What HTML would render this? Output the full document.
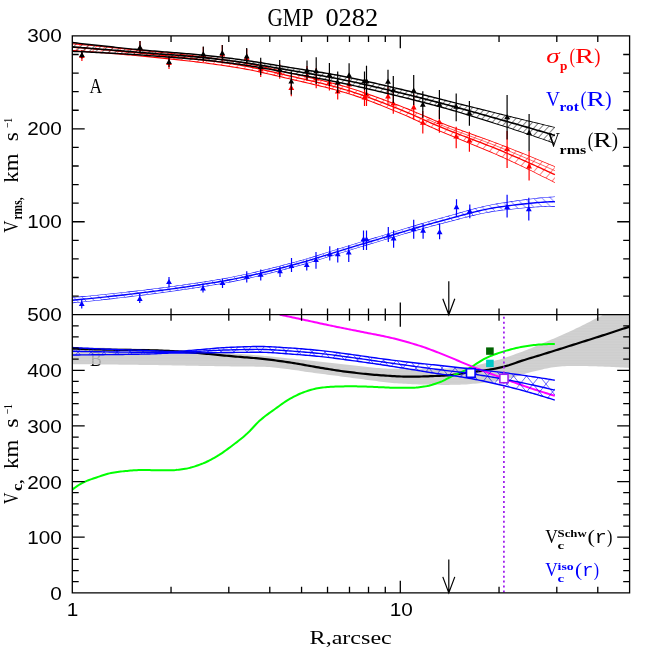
<!DOCTYPE html><html><head><meta charset="utf-8"><style>html,body{margin:0;padding:0;background:#fff}svg{display:block;will-change:transform;opacity:0.999}</style></head><body><svg width="664" height="664" viewBox="0 0 664 664">
<defs>
<pattern id="hk" patternUnits="userSpaceOnUse" width="20" height="4.900" patternTransform="rotate(-47)"><path d="M-1,2.450H21" stroke="#000" stroke-width="0.5" fill="none"/></pattern>
<pattern id="hr" patternUnits="userSpaceOnUse" width="20" height="6.700" patternTransform="rotate(-50)"><path d="M-1,3.350H21" stroke="#f00" stroke-width="0.5" fill="none"/></pattern>
<pattern id="hb" patternUnits="userSpaceOnUse" width="8.6" height="8.6"><path d="M-8.6,-8.6L17.2,17.2M0,-8.6L17.2,8.6M-8.6,0L8.6,17.2" stroke="#00f" stroke-width="0.55" fill="none"/></pattern>
<pattern id="hx" patternUnits="userSpaceOnUse" width="13" height="16"><path d="M0,0L13,16M13,0L0,16" stroke="#00f" stroke-width="0.6" fill="none"/></pattern>
<clipPath id="c2"><rect x="72.3" y="314.67" width="557.3000000000001" height="278.18"/></clipPath>
<pattern id="gdot" patternUnits="userSpaceOnUse" width="1.6" height="1.6"><path d="M0,0H1.6V1.6H0Z M0.5,0.5V1.1H1.1V0.5Z" fill="#c8c8c8" fill-rule="evenodd"/></pattern>
</defs>
<rect width="664" height="664" fill="#fff"/>
<g clip-path="url(#c2)">
<text x="90.0" y="365.7" font-family="Liberation Serif, serif" font-size="20.8" textLength="12.00" lengthAdjust="spacingAndGlyphs" fill="#000">B</text>
<path d="M72.30,347.50 L74.54,347.51 L76.78,347.52 L79.01,347.54 L81.25,347.55 L83.49,347.57 L85.73,347.60 L87.97,347.62 L90.21,347.65 L92.44,347.68 L94.68,347.72 L96.92,347.75 L99.16,347.79 L101.40,347.83 L103.63,347.87 L105.87,347.91 L108.11,347.96 L110.35,348.00 L112.59,348.05 L114.82,348.10 L117.06,348.15 L119.30,348.21 L121.54,348.26 L123.78,348.32 L126.02,348.37 L128.25,348.43 L130.49,348.49 L132.73,348.55 L134.97,348.61 L137.21,348.67 L139.44,348.73 L141.68,348.79 L143.92,348.86 L146.16,348.92 L148.40,348.98 L150.64,349.05 L152.87,349.12 L155.11,349.19 L157.35,349.27 L159.59,349.35 L161.83,349.44 L164.06,349.53 L166.30,349.62 L168.54,349.72 L170.78,349.82 L173.02,349.93 L175.26,350.03 L177.49,350.15 L179.73,350.26 L181.97,350.38 L184.21,350.49 L186.45,350.62 L188.68,350.74 L190.92,350.87 L193.16,350.99 L195.40,351.12 L197.64,351.25 L199.87,351.39 L202.11,351.52 L204.35,351.66 L206.59,351.79 L208.83,351.93 L211.07,352.07 L213.30,352.21 L215.54,352.35 L217.78,352.49 L220.02,352.63 L222.26,352.77 L224.49,352.91 L226.73,353.05 L228.97,353.19 L231.21,353.33 L233.45,353.48 L235.69,353.63 L237.92,353.79 L240.16,353.95 L242.40,354.11 L244.64,354.28 L246.88,354.45 L249.11,354.62 L251.35,354.79 L253.59,354.97 L255.83,355.15 L258.07,355.34 L260.30,355.53 L262.54,355.72 L264.78,355.92 L267.02,356.12 L269.26,356.33 L271.50,356.55 L273.73,356.77 L275.97,356.99 L278.21,357.22 L280.45,357.45 L282.69,357.68 L284.92,357.91 L287.16,358.15 L289.40,358.38 L291.64,358.62 L293.88,358.86 L296.12,359.09 L298.35,359.33 L300.59,359.56 L302.83,359.80 L305.07,360.04 L307.31,360.29 L309.54,360.53 L311.78,360.79 L314.02,361.04 L316.26,361.29 L318.50,361.55 L320.73,361.81 L322.97,362.06 L325.21,362.32 L327.45,362.57 L329.69,362.83 L331.93,363.08 L334.16,363.33 L336.40,363.58 L338.64,363.82 L340.88,364.07 L343.12,364.30 L345.35,364.53 L347.59,364.76 L349.83,364.98 L352.07,365.21 L354.31,365.45 L356.55,365.70 L358.78,365.95 L361.02,366.22 L363.26,366.48 L365.50,366.74 L367.74,367.00 L369.97,367.25 L372.21,367.49 L374.45,367.72 L376.69,367.93 L378.93,368.12 L381.17,368.29 L383.40,368.43 L385.64,368.55 L387.88,368.64 L390.12,368.69 L392.36,368.70 L394.59,368.70 L396.83,368.70 L399.07,368.70 L401.31,368.70 L403.55,368.70 L405.78,368.69 L408.02,368.69 L410.26,368.69 L412.50,368.68 L414.74,368.68 L416.98,368.68 L419.21,368.67 L421.45,368.67 L423.69,368.66 L425.93,368.65 L428.17,368.65 L430.40,368.64 L432.64,368.63 L434.88,368.62 L437.12,368.61 L439.36,368.60 L441.60,368.59 L443.83,368.54 L446.07,368.48 L448.31,368.39 L450.55,368.28 L452.79,368.16 L455.02,368.03 L457.26,367.89 L459.50,367.73 L461.74,367.56 L463.98,367.33 L466.21,367.05 L468.45,366.73 L470.69,366.35 L472.93,365.94 L475.17,365.50 L477.41,365.02 L479.64,364.52 L481.88,364.00 L484.12,363.45 L486.36,362.90 L488.60,362.33 L490.83,361.76 L493.07,361.19 L495.31,360.62 L497.55,360.03 L499.79,359.39 L502.03,358.72 L504.26,358.01 L506.50,357.27 L508.74,356.51 L510.98,355.72 L513.22,354.92 L515.45,354.11 L517.69,353.29 L519.93,352.46 L522.17,351.64 L524.41,350.80 L526.64,349.94 L528.88,349.06 L531.12,348.17 L533.36,347.26 L535.60,346.33 L537.84,345.40 L540.07,344.45 L542.31,343.49 L544.55,342.53 L546.79,341.56 L549.03,340.59 L551.26,339.62 L553.50,338.65 L555.74,337.68 L557.98,336.70 L560.22,335.72 L562.46,334.74 L564.69,333.74 L566.93,332.73 L569.17,331.72 L571.41,330.68 L573.65,329.64 L575.88,328.58 L578.12,327.50 L580.36,326.40 L582.60,325.29 L584.84,324.17 L587.08,323.03 L589.31,321.89 L591.55,320.74 L593.79,319.59 L596.03,318.44 L598.27,317.29 L600.50,316.14 L602.74,314.99 L604.98,313.84 L607.22,312.69 L609.46,311.54 L611.69,310.38 L613.93,309.21 L616.17,308.05 L618.41,306.88 L620.65,305.71 L622.89,304.54 L625.12,303.36 L627.36,302.18 L629.60,301.00 L629.60,368.00 L627.36,367.86 L625.12,367.72 L622.89,367.58 L620.65,367.45 L618.41,367.32 L616.17,367.20 L613.93,367.08 L611.69,366.97 L609.46,366.87 L607.22,366.77 L604.98,366.68 L602.74,366.59 L600.50,366.52 L598.27,366.44 L596.03,366.37 L593.79,366.29 L591.55,366.22 L589.31,366.15 L587.08,366.09 L584.84,366.03 L582.60,365.98 L580.36,365.94 L578.12,365.91 L575.88,365.90 L573.65,365.91 L571.41,365.95 L569.17,366.01 L566.93,366.11 L564.69,366.22 L562.46,366.35 L560.22,366.49 L557.98,366.67 L555.74,366.93 L553.50,367.26 L551.26,367.62 L549.03,368.00 L546.79,368.41 L544.55,368.87 L542.31,369.38 L540.07,369.91 L537.84,370.44 L535.60,370.98 L533.36,371.53 L531.12,372.10 L528.88,372.68 L526.64,373.28 L524.41,373.89 L522.17,374.53 L519.93,375.22 L517.69,375.93 L515.45,376.64 L513.22,377.34 L510.98,377.98 L508.74,378.56 L506.50,379.09 L504.26,379.59 L502.03,380.06 L499.79,380.50 L497.55,380.91 L495.31,381.28 L493.07,381.64 L490.83,381.97 L488.60,382.28 L486.36,382.56 L484.12,382.82 L481.88,383.06 L479.64,383.28 L477.41,383.49 L475.17,383.69 L472.93,383.87 L470.69,384.06 L468.45,384.24 L466.21,384.40 L463.98,384.52 L461.74,384.61 L459.50,384.67 L457.26,384.73 L455.02,384.78 L452.79,384.82 L450.55,384.86 L448.31,384.89 L446.07,384.90 L443.83,384.90 L441.60,384.89 L439.36,384.86 L437.12,384.83 L434.88,384.79 L432.64,384.74 L430.40,384.69 L428.17,384.63 L425.93,384.57 L423.69,384.51 L421.45,384.44 L419.21,384.38 L416.98,384.31 L414.74,384.23 L412.50,384.15 L410.26,384.06 L408.02,383.96 L405.78,383.85 L403.55,383.74 L401.31,383.61 L399.07,383.48 L396.83,383.34 L394.59,383.19 L392.36,383.03 L390.12,382.83 L387.88,382.58 L385.64,382.29 L383.40,381.98 L381.17,381.68 L378.93,381.40 L376.69,381.12 L374.45,380.83 L372.21,380.54 L369.97,380.25 L367.74,379.96 L365.50,379.67 L363.26,379.37 L361.02,379.08 L358.78,378.78 L356.55,378.48 L354.31,378.18 L352.07,377.88 L349.83,377.58 L347.59,377.28 L345.35,376.98 L343.12,376.68 L340.88,376.39 L338.64,376.09 L336.40,375.80 L334.16,375.50 L331.93,375.21 L329.69,374.92 L327.45,374.64 L325.21,374.35 L322.97,374.07 L320.73,373.79 L318.50,373.51 L316.26,373.22 L314.02,372.92 L311.78,372.61 L309.54,372.28 L307.31,371.96 L305.07,371.63 L302.83,371.29 L300.59,370.96 L298.35,370.62 L296.12,370.29 L293.88,369.96 L291.64,369.64 L289.40,369.33 L287.16,369.02 L284.92,368.73 L282.69,368.44 L280.45,368.18 L278.21,367.93 L275.97,367.69 L273.73,367.48 L271.50,367.29 L269.26,367.12 L267.02,366.97 L264.78,366.86 L262.54,366.77 L260.30,366.71 L258.07,366.67 L255.83,366.63 L253.59,366.61 L251.35,366.58 L249.11,366.56 L246.88,366.54 L244.64,366.52 L242.40,366.50 L240.16,366.48 L237.92,366.46 L235.69,366.44 L233.45,366.42 L231.21,366.39 L228.97,366.36 L226.73,366.33 L224.49,366.30 L222.26,366.26 L220.02,366.23 L217.78,366.19 L215.54,366.16 L213.30,366.12 L211.07,366.08 L208.83,366.04 L206.59,366.00 L204.35,365.96 L202.11,365.92 L199.87,365.88 L197.64,365.84 L195.40,365.79 L193.16,365.75 L190.92,365.71 L188.68,365.67 L186.45,365.63 L184.21,365.58 L181.97,365.54 L179.73,365.50 L177.49,365.46 L175.26,365.42 L173.02,365.38 L170.78,365.34 L168.54,365.30 L166.30,365.26 L164.06,365.22 L161.83,365.19 L159.59,365.15 L157.35,365.12 L155.11,365.08 L152.87,365.05 L150.64,365.02 L148.40,364.99 L146.16,364.96 L143.92,364.94 L141.68,364.91 L139.44,364.88 L137.21,364.85 L134.97,364.82 L132.73,364.80 L130.49,364.77 L128.25,364.74 L126.02,364.72 L123.78,364.69 L121.54,364.67 L119.30,364.64 L117.06,364.62 L114.82,364.59 L112.59,364.57 L110.35,364.54 L108.11,364.52 L105.87,364.50 L103.63,364.47 L101.40,364.45 L99.16,364.43 L96.92,364.41 L94.68,364.39 L92.44,364.37 L90.21,364.35 L87.97,364.33 L85.73,364.31 L83.49,364.29 L81.25,364.27 L79.01,364.25 L76.78,364.23 L74.54,364.22 L72.30,364.20Z" fill="url(#gdot)"/>
<path d="M72.30,348.60 L74.54,348.68 L76.78,348.76 L79.01,348.84 L81.25,348.91 L83.49,348.98 L85.73,349.06 L87.97,349.13 L90.21,349.19 L92.44,349.26 L94.68,349.32 L96.92,349.38 L99.16,349.44 L101.40,349.50 L103.63,349.55 L105.87,349.60 L108.11,349.65 L110.35,349.70 L112.59,349.74 L114.82,349.78 L117.06,349.82 L119.30,349.85 L121.54,349.88 L123.78,349.90 L126.02,349.93 L128.25,349.95 L130.49,349.97 L132.73,349.99 L134.97,350.01 L137.21,350.03 L139.44,350.06 L141.68,350.09 L143.92,350.12 L146.16,350.15 L148.40,350.19 L150.64,350.23 L152.87,350.29 L155.11,350.36 L157.35,350.44 L159.59,350.53 L161.83,350.62 L164.06,350.73 L166.30,350.84 L168.54,350.95 L170.78,351.07 L173.02,351.20 L175.26,351.32 L177.49,351.45 L179.73,351.58 L181.97,351.72 L184.21,351.87 L186.45,352.04 L188.68,352.21 L190.92,352.40 L193.16,352.59 L195.40,352.79 L197.64,352.99 L199.87,353.19 L202.11,353.40 L204.35,353.60 L206.59,353.80 L208.83,354.01 L211.07,354.22 L213.30,354.43 L215.54,354.65 L217.78,354.88 L220.02,355.10 L222.26,355.32 L224.49,355.54 L226.73,355.76 L228.97,355.97 L231.21,356.18 L233.45,356.38 L235.69,356.57 L237.92,356.75 L240.16,356.93 L242.40,357.10 L244.64,357.28 L246.88,357.45 L249.11,357.63 L251.35,357.81 L253.59,358.00 L255.83,358.20 L258.07,358.41 L260.30,358.63 L262.54,358.87 L264.78,359.11 L267.02,359.37 L269.26,359.64 L271.50,359.92 L273.73,360.21 L275.97,360.50 L278.21,360.81 L280.45,361.12 L282.69,361.43 L284.92,361.75 L287.16,362.08 L289.40,362.41 L291.64,362.75 L293.88,363.10 L296.12,363.48 L298.35,363.86 L300.59,364.26 L302.83,364.66 L305.07,365.07 L307.31,365.48 L309.54,365.88 L311.78,366.29 L314.02,366.69 L316.26,367.08 L318.50,367.45 L320.73,367.82 L322.97,368.18 L325.21,368.54 L327.45,368.90 L329.69,369.26 L331.93,369.62 L334.16,369.97 L336.40,370.32 L338.64,370.66 L340.88,370.99 L343.12,371.30 L345.35,371.61 L347.59,371.90 L349.83,372.18 L352.07,372.45 L354.31,372.71 L356.55,372.97 L358.78,373.23 L361.02,373.48 L363.26,373.72 L365.50,373.95 L367.74,374.18 L369.97,374.39 L372.21,374.59 L374.45,374.78 L376.69,374.96 L378.93,375.13 L381.17,375.28 L383.40,375.43 L385.64,375.59 L387.88,375.74 L390.12,375.89 L392.36,376.04 L394.59,376.18 L396.83,376.30 L399.07,376.42 L401.31,376.51 L403.55,376.59 L405.78,376.65 L408.02,376.69 L410.26,376.70 L412.50,376.69 L414.74,376.67 L416.98,376.63 L419.21,376.58 L421.45,376.52 L423.69,376.45 L425.93,376.38 L428.17,376.29 L430.40,376.21 L432.64,376.11 L434.88,376.02 L437.12,375.92 L439.36,375.83 L441.60,375.73 L443.83,375.62 L446.07,375.48 L448.31,375.33 L450.55,375.15 L452.79,374.91 L455.02,374.61 L457.26,374.26 L459.50,373.89 L461.74,373.50 L463.98,373.12 L466.21,372.76 L468.45,372.44 L470.69,372.15 L472.93,371.87 L475.17,371.61 L477.41,371.34 L479.64,371.07 L481.88,370.79 L484.12,370.48 L486.36,370.14 L488.60,369.78 L490.83,369.39 L493.07,368.98 L495.31,368.55 L497.55,368.08 L499.79,367.60 L502.03,367.08 L504.26,366.53 L506.50,365.92 L508.74,365.24 L510.98,364.50 L513.22,363.73 L515.45,362.94 L517.69,362.15 L519.93,361.38 L522.17,360.65 L524.41,359.95 L526.64,359.26 L528.88,358.57 L531.12,357.90 L533.36,357.22 L535.60,356.54 L537.84,355.86 L540.07,355.18 L542.31,354.49 L544.55,353.79 L546.79,353.10 L549.03,352.40 L551.26,351.71 L553.50,351.01 L555.74,350.31 L557.98,349.61 L560.22,348.90 L562.46,348.20 L564.69,347.49 L566.93,346.78 L569.17,346.07 L571.41,345.36 L573.65,344.65 L575.88,343.94 L578.12,343.23 L580.36,342.52 L582.60,341.81 L584.84,341.11 L587.08,340.40 L589.31,339.69 L591.55,338.98 L593.79,338.27 L596.03,337.55 L598.27,336.84 L600.50,336.12 L602.74,335.40 L604.98,334.68 L607.22,333.95 L609.46,333.23 L611.69,332.50 L613.93,331.77 L616.17,331.04 L618.41,330.30 L620.65,329.57 L622.89,328.83 L625.12,328.09 L627.36,327.34 L629.60,326.60" fill="none" stroke="#000" stroke-width="2.2"/>
<path d="M72.30,489.60 L73.91,488.37 L75.53,487.20 L77.14,486.08 L78.75,485.02 L80.37,484.03 L81.98,483.12 L83.60,482.29 L85.21,481.55 L86.82,480.87 L88.44,480.24 L90.05,479.65 L91.66,479.08 L93.28,478.54 L94.89,478.00 L96.51,477.46 L98.12,476.91 L99.73,476.35 L101.35,475.79 L102.96,475.24 L104.57,474.72 L106.19,474.23 L107.80,473.77 L109.42,473.37 L111.03,473.03 L112.64,472.74 L114.26,472.47 L115.87,472.22 L117.48,471.98 L119.10,471.77 L120.71,471.57 L122.33,471.38 L123.94,471.21 L125.55,471.06 L127.17,470.91 L128.78,470.77 L130.39,470.62 L132.01,470.48 L133.62,470.34 L135.23,470.23 L136.85,470.13 L138.46,470.05 L140.08,470.01 L141.69,470.00 L143.30,470.01 L144.92,470.03 L146.53,470.06 L148.14,470.09 L149.76,470.12 L151.37,470.15 L152.99,470.17 L154.60,470.19 L156.21,470.20 L157.83,470.20 L159.44,470.20 L161.05,470.20 L162.67,470.20 L164.28,470.20 L165.90,470.20 L167.51,470.20 L169.12,470.20 L170.74,470.20 L172.35,470.19 L173.96,470.13 L175.58,470.02 L177.19,469.87 L178.81,469.68 L180.42,469.46 L182.03,469.22 L183.65,468.97 L185.26,468.70 L186.87,468.44 L188.49,468.12 L190.10,467.75 L191.71,467.33 L193.33,466.85 L194.94,466.34 L196.56,465.80 L198.17,465.23 L199.78,464.64 L201.40,464.04 L203.01,463.41 L204.62,462.73 L206.24,462.00 L207.85,461.23 L209.47,460.43 L211.08,459.58 L212.69,458.71 L214.31,457.81 L215.92,456.89 L217.53,455.95 L219.15,454.95 L220.76,453.90 L222.38,452.81 L223.99,451.68 L225.60,450.52 L227.22,449.33 L228.83,448.14 L230.44,446.94 L232.06,445.73 L233.67,444.53 L235.28,443.31 L236.90,442.08 L238.51,440.83 L240.13,439.56 L241.74,438.25 L243.35,436.91 L244.97,435.53 L246.58,434.11 L248.19,432.59 L249.81,430.96 L251.42,429.25 L253.04,427.50 L254.65,425.75 L256.26,424.03 L257.88,422.38 L259.49,420.85 L261.10,419.45 L262.72,418.11 L264.33,416.82 L265.95,415.58 L267.56,414.36 L269.17,413.18 L270.79,412.02 L272.40,410.86 L274.01,409.71 L275.63,408.55 L277.24,407.37 L278.86,406.20 L280.47,405.02 L282.08,403.87 L283.70,402.73 L285.31,401.64 L286.92,400.59 L288.54,399.60 L290.15,398.67 L291.76,397.79 L293.38,396.93 L294.99,396.09 L296.61,395.29 L298.22,394.52 L299.83,393.79 L301.45,393.10 L303.06,392.46 L304.67,391.88 L306.29,391.34 L307.90,390.81 L309.52,390.30 L311.13,389.80 L312.74,389.34 L314.36,388.92 L315.97,388.54 L317.58,388.21 L319.20,387.94 L320.81,387.73 L322.43,387.54 L324.04,387.37 L325.65,387.21 L327.27,387.07 L328.88,386.94 L330.49,386.83 L332.11,386.74 L333.72,386.66 L335.34,386.60 L336.95,386.55 L338.56,386.50 L340.18,386.46 L341.79,386.41 L343.40,386.38 L345.02,386.35 L346.63,386.32 L348.24,386.31 L349.86,386.30 L351.47,386.30 L353.09,386.31 L354.70,386.34 L356.31,386.37 L357.93,386.40 L359.54,386.44 L361.15,386.48 L362.77,386.53 L364.38,386.57 L366.00,386.62 L367.61,386.67 L369.22,386.72 L370.84,386.79 L372.45,386.85 L374.06,386.92 L375.68,386.99 L377.29,387.07 L378.91,387.13 L380.52,387.20 L382.13,387.27 L383.75,387.35 L385.36,387.44 L386.97,387.52 L388.59,387.60 L390.20,387.68 L391.82,387.74 L393.43,387.78 L395.04,387.80 L396.66,387.80 L398.27,387.80 L399.88,387.80 L401.50,387.80 L403.11,387.80 L404.72,387.80 L406.34,387.80 L407.95,387.80 L409.57,387.80 L411.18,387.80 L412.79,387.75 L414.41,387.67 L416.02,387.55 L417.63,387.39 L419.25,387.20 L420.86,387.00 L422.48,386.77 L424.09,386.54 L425.70,386.30 L427.32,386.02 L428.93,385.67 L430.54,385.26 L432.16,384.80 L433.77,384.29 L435.39,383.75 L437.00,383.18 L438.61,382.58 L440.23,381.98 L441.84,381.34 L443.45,380.62 L445.07,379.82 L446.68,378.98 L448.29,378.12 L449.91,377.26 L451.52,376.43 L453.14,375.64 L454.75,374.90 L456.36,374.18 L457.98,373.47 L459.59,372.78 L461.20,372.08 L462.82,371.37 L464.43,370.64 L466.05,369.87 L467.66,369.07 L469.27,368.22 L470.89,367.28 L472.50,366.29 L474.11,365.25 L475.73,364.19 L477.34,363.13 L478.96,362.07 L480.57,361.05 L482.18,360.07 L483.80,359.16 L485.41,358.33 L487.02,357.58 L488.64,356.87 L490.25,356.19 L491.87,355.54 L493.48,354.91 L495.09,354.31 L496.71,353.73 L498.32,353.17 L499.93,352.63 L501.55,352.11 L503.16,351.61 L504.77,351.13 L506.39,350.65 L508.00,350.19 L509.62,349.73 L511.23,349.29 L512.84,348.86 L514.46,348.45 L516.07,348.06 L517.68,347.70 L519.30,347.36 L520.91,347.05 L522.53,346.76 L524.14,346.49 L525.75,346.23 L527.37,345.98 L528.98,345.74 L530.59,345.51 L532.21,345.30 L533.82,345.10 L535.44,344.92 L537.05,344.76 L538.66,344.62 L540.28,344.51 L541.89,344.41 L543.50,344.31 L545.12,344.22 L546.73,344.14 L548.35,344.06 L549.96,344.00 L551.57,343.95 L553.19,343.92 L554.80,343.90" fill="none" stroke="#0f0" stroke-width="2"/>
<path d="M279.75,314.67 L281.60,315.06 L283.44,315.45 L285.29,315.84 L287.13,316.23 L288.98,316.63 L290.83,317.02 L292.67,317.41 L294.52,317.81 L296.36,318.20 L298.21,318.60 L300.06,318.99 L301.90,319.39 L303.75,319.79 L305.59,320.19 L307.44,320.59 L309.29,320.99 L311.13,321.39 L312.98,321.80 L314.82,322.20 L316.67,322.60 L318.52,323.00 L320.36,323.40 L322.21,323.80 L324.05,324.20 L325.90,324.59 L327.75,324.98 L329.59,325.37 L331.44,325.76 L333.28,326.14 L335.13,326.52 L336.98,326.90 L338.82,327.27 L340.67,327.64 L342.51,328.02 L344.36,328.39 L346.21,328.76 L348.05,329.12 L349.90,329.49 L351.74,329.86 L353.59,330.23 L355.43,330.60 L357.28,330.97 L359.13,331.34 L360.97,331.72 L362.82,332.08 L364.66,332.45 L366.51,332.81 L368.36,333.17 L370.20,333.52 L372.05,333.88 L373.89,334.24 L375.74,334.60 L377.59,334.96 L379.43,335.33 L381.28,335.70 L383.12,336.09 L384.97,336.47 L386.82,336.87 L388.66,337.28 L390.51,337.70 L392.35,338.14 L394.20,338.59 L396.05,339.06 L397.89,339.53 L399.74,340.02 L401.58,340.52 L403.43,341.03 L405.28,341.54 L407.12,342.05 L408.97,342.57 L410.81,343.10 L412.66,343.64 L414.51,344.19 L416.35,344.75 L418.20,345.33 L420.04,345.92 L421.89,346.53 L423.74,347.16 L425.58,347.81 L427.43,348.48 L429.27,349.17 L431.12,349.86 L432.97,350.56 L434.81,351.26 L436.66,351.97 L438.50,352.68 L440.35,353.41 L442.20,354.14 L444.04,354.89 L445.89,355.64 L447.73,356.39 L449.58,357.14 L451.43,357.90 L453.27,358.66 L455.12,359.44 L456.96,360.22 L458.81,361.01 L460.66,361.80 L462.50,362.58 L464.35,363.37 L466.19,364.14 L468.04,364.90 L469.89,365.65 L471.73,366.39 L473.58,367.13 L475.42,367.86 L477.27,368.58 L479.12,369.30 L480.96,370.02 L482.81,370.73 L484.65,371.44 L486.50,372.14 L488.34,372.84 L490.19,373.54 L492.04,374.23 L493.88,374.92 L495.73,375.61 L497.57,376.30 L499.42,376.99 L501.27,377.67 L503.11,378.35 L504.96,379.04 L506.80,379.72 L508.65,380.40 L510.50,381.07 L512.34,381.75 L514.19,382.42 L516.03,383.09 L517.88,383.75 L519.73,384.41 L521.57,385.06 L523.42,385.71 L525.26,386.35 L527.11,386.99 L528.96,387.61 L530.80,388.23 L532.65,388.85 L534.49,389.46 L536.34,390.06 L538.19,390.66 L540.03,391.25 L541.88,391.84 L543.72,392.42 L545.57,393.00 L547.42,393.57 L549.26,394.13 L551.11,394.69 L552.95,395.25 L554.80,395.80" fill="none" stroke="#f0f" stroke-width="2"/>
<path d="M72.30,347.50 L74.50,347.62 L76.71,347.74 L78.91,347.86 L81.11,347.97 L83.32,348.08 L85.52,348.20 L87.72,348.31 L89.93,348.41 L92.13,348.52 L94.33,348.62 L96.54,348.73 L98.74,348.83 L100.94,348.92 L103.14,349.02 L105.35,349.11 L107.55,349.20 L109.75,349.29 L111.96,349.38 L114.16,349.46 L116.36,349.54 L118.57,349.61 L120.77,349.69 L122.97,349.76 L125.18,349.83 L127.38,349.90 L129.58,349.97 L131.79,350.04 L133.99,350.10 L136.19,350.17 L138.40,350.24 L140.60,350.31 L142.80,350.39 L145.01,350.46 L147.21,350.54 L149.41,350.62 L151.62,350.71 L153.82,350.81 L156.02,350.92 L158.22,351.04 L160.43,351.15 L162.63,351.26 L164.83,351.35 L167.04,351.42 L169.24,351.47 L171.44,351.50 L173.65,351.49 L175.85,351.44 L178.05,351.35 L180.26,351.23 L182.46,351.08 L184.66,350.92 L186.87,350.74 L189.07,350.54 L191.27,350.34 L193.48,350.14 L195.68,349.95 L197.88,349.76 L200.09,349.59 L202.29,349.42 L204.49,349.23 L206.69,349.04 L208.90,348.83 L211.10,348.63 L213.30,348.43 L215.51,348.23 L217.71,348.04 L219.91,347.87 L222.12,347.71 L224.32,347.58 L226.52,347.48 L228.73,347.38 L230.93,347.28 L233.13,347.19 L235.34,347.10 L237.54,347.01 L239.74,346.93 L241.95,346.85 L244.15,346.78 L246.35,346.71 L248.56,346.65 L250.76,346.60 L252.96,346.56 L255.17,346.53 L257.37,346.51 L259.57,346.50 L261.77,346.51 L263.98,346.54 L266.18,346.60 L268.38,346.68 L270.59,346.78 L272.79,346.89 L274.99,347.02 L277.20,347.15 L279.40,347.29 L281.60,347.44 L283.81,347.59 L286.01,347.74 L288.21,347.89 L290.42,348.03 L292.62,348.17 L294.82,348.32 L297.03,348.48 L299.23,348.64 L301.43,348.82 L303.64,348.99 L305.84,349.18 L308.04,349.37 L310.25,349.57 L312.45,349.77 L314.65,349.98 L316.85,350.19 L319.06,350.41 L321.26,350.63 L323.46,350.87 L325.67,351.11 L327.87,351.37 L330.07,351.64 L332.28,351.92 L334.48,352.21 L336.68,352.50 L338.89,352.79 L341.09,353.09 L343.29,353.39 L345.50,353.69 L347.70,353.99 L349.90,354.29 L352.11,354.58 L354.31,354.89 L356.51,355.20 L358.72,355.51 L360.92,355.83 L363.12,356.14 L365.33,356.46 L367.53,356.78 L369.73,357.10 L371.93,357.42 L374.14,357.73 L376.34,358.04 L378.54,358.34 L380.75,358.63 L382.95,358.92 L385.15,359.21 L387.36,359.50 L389.56,359.79 L391.76,360.07 L393.97,360.35 L396.17,360.63 L398.37,360.91 L400.58,361.18 L402.78,361.45 L404.98,361.71 L407.19,361.97 L409.39,362.23 L411.59,362.48 L413.80,362.73 L416.00,362.97 L418.20,363.21 L420.41,363.44 L422.61,363.68 L424.81,363.91 L427.01,364.14 L429.22,364.36 L431.42,364.59 L433.62,364.82 L435.83,365.05 L438.03,365.29 L440.23,365.53 L442.44,365.76 L444.64,366.01 L446.84,366.25 L449.05,366.49 L451.25,366.73 L453.45,366.97 L455.66,367.22 L457.86,367.46 L460.06,367.71 L462.27,367.95 L464.47,368.19 L466.67,368.43 L468.88,368.67 L471.08,368.91 L473.28,369.15 L475.48,369.38 L477.69,369.62 L479.89,369.86 L482.09,370.10 L484.30,370.35 L486.50,370.60 L488.70,370.85 L490.91,371.10 L493.11,371.36 L495.31,371.62 L497.52,371.89 L499.72,372.16 L501.92,372.44 L504.13,372.73 L506.33,373.01 L508.53,373.30 L510.74,373.60 L512.94,373.89 L515.14,374.20 L517.35,374.50 L519.55,374.81 L521.75,375.12 L523.96,375.43 L526.16,375.75 L528.36,376.07 L530.56,376.40 L532.77,376.73 L534.97,377.06 L537.17,377.39 L539.38,377.73 L541.58,378.08 L543.78,378.42 L545.99,378.77 L548.19,379.12 L550.39,379.48 L552.60,379.84 L554.80,380.20 L554.80,400.10 L552.60,399.39 L550.39,398.69 L548.19,398.00 L545.99,397.31 L543.78,396.63 L541.58,395.96 L539.38,395.30 L537.17,394.64 L534.97,393.99 L532.77,393.35 L530.56,392.72 L528.36,392.10 L526.16,391.48 L523.96,390.87 L521.75,390.28 L519.55,389.68 L517.35,389.10 L515.14,388.53 L512.94,387.96 L510.74,387.40 L508.53,386.85 L506.33,386.31 L504.13,385.78 L501.92,385.25 L499.72,384.73 L497.52,384.22 L495.31,383.72 L493.11,383.22 L490.91,382.72 L488.70,382.24 L486.50,381.75 L484.30,381.28 L482.09,380.81 L479.89,380.36 L477.69,379.91 L475.48,379.47 L473.28,379.04 L471.08,378.62 L468.88,378.21 L466.67,377.82 L464.47,377.44 L462.27,377.07 L460.06,376.71 L457.86,376.37 L455.66,376.06 L453.45,375.76 L451.25,375.48 L449.05,375.20 L446.84,374.92 L444.64,374.64 L442.44,374.34 L440.23,374.03 L438.03,373.71 L435.83,373.38 L433.62,373.03 L431.42,372.69 L429.22,372.33 L427.01,371.98 L424.81,371.62 L422.61,371.25 L420.41,370.89 L418.20,370.53 L416.00,370.17 L413.80,369.81 L411.59,369.45 L409.39,369.10 L407.19,368.75 L404.98,368.41 L402.78,368.06 L400.58,367.71 L398.37,367.36 L396.17,367.01 L393.97,366.66 L391.76,366.32 L389.56,365.97 L387.36,365.64 L385.15,365.30 L382.95,364.97 L380.75,364.64 L378.54,364.31 L376.34,363.99 L374.14,363.67 L371.93,363.35 L369.73,363.03 L367.53,362.72 L365.33,362.40 L363.12,362.09 L360.92,361.79 L358.72,361.48 L356.51,361.18 L354.31,360.88 L352.11,360.58 L349.90,360.29 L347.70,359.99 L345.50,359.69 L343.29,359.39 L341.09,359.09 L338.89,358.79 L336.68,358.50 L334.48,358.21 L332.28,357.92 L330.07,357.64 L327.87,357.37 L325.67,357.11 L323.46,356.87 L321.26,356.63 L319.06,356.41 L316.85,356.19 L314.65,355.98 L312.45,355.78 L310.25,355.58 L308.04,355.38 L305.84,355.20 L303.64,355.01 L301.43,354.84 L299.23,354.67 L297.03,354.50 L294.82,354.34 L292.62,354.18 L290.42,354.03 L288.21,353.88 L286.01,353.72 L283.81,353.55 L281.60,353.38 L279.40,353.21 L277.20,353.05 L274.99,352.90 L272.79,352.75 L270.59,352.62 L268.38,352.51 L266.18,352.42 L263.98,352.35 L261.77,352.31 L259.57,352.30 L257.37,352.30 L255.17,352.31 L252.96,352.31 L250.76,352.32 L248.56,352.33 L246.35,352.34 L244.15,352.36 L241.95,352.37 L239.74,352.39 L237.54,352.40 L235.34,352.42 L233.13,352.44 L230.93,352.46 L228.73,352.48 L226.52,352.50 L224.32,352.52 L222.12,352.54 L219.91,352.58 L217.71,352.61 L215.51,352.65 L213.30,352.69 L211.10,352.73 L208.90,352.77 L206.69,352.81 L204.49,352.84 L202.29,352.87 L200.09,352.90 L197.88,352.92 L195.68,352.94 L193.48,352.95 L191.27,352.96 L189.07,352.98 L186.87,352.99 L184.66,353.00 L182.46,353.01 L180.26,353.02 L178.05,353.04 L175.85,353.06 L173.65,353.08 L171.44,353.11 L169.24,353.16 L167.04,353.23 L164.83,353.31 L162.63,353.42 L160.43,353.52 L158.22,353.63 L156.02,353.74 L153.82,353.84 L151.62,353.92 L149.41,353.99 L147.21,354.04 L145.01,354.09 L142.80,354.13 L140.60,354.17 L138.40,354.21 L136.19,354.25 L133.99,354.28 L131.79,354.32 L129.58,354.35 L127.38,354.38 L125.18,354.41 L122.97,354.44 L120.77,354.47 L118.57,354.49 L116.36,354.52 L114.16,354.55 L111.96,354.58 L109.75,354.60 L107.55,354.63 L105.35,354.66 L103.14,354.68 L100.94,354.71 L98.74,354.74 L96.54,354.76 L94.33,354.79 L92.13,354.81 L89.93,354.83 L87.72,354.86 L85.52,354.88 L83.32,354.90 L81.11,354.92 L78.91,354.94 L76.71,354.96 L74.50,354.98 L72.30,355.00Z" fill="url(#hx)" stroke="none"/>
<path d="M72.30,347.50 L74.50,347.62 L76.71,347.74 L78.91,347.86 L81.11,347.97 L83.32,348.08 L85.52,348.20 L87.72,348.31 L89.93,348.41 L92.13,348.52 L94.33,348.62 L96.54,348.73 L98.74,348.83 L100.94,348.92 L103.14,349.02 L105.35,349.11 L107.55,349.20 L109.75,349.29 L111.96,349.38 L114.16,349.46 L116.36,349.54 L118.57,349.61 L120.77,349.69 L122.97,349.76 L125.18,349.83 L127.38,349.90 L129.58,349.97 L131.79,350.04 L133.99,350.10 L136.19,350.17 L138.40,350.24 L140.60,350.31 L142.80,350.39 L145.01,350.46 L147.21,350.54 L149.41,350.62 L151.62,350.71 L153.82,350.81 L156.02,350.92 L158.22,351.04 L160.43,351.15 L162.63,351.26 L164.83,351.35 L167.04,351.42 L169.24,351.47 L171.44,351.50 L173.65,351.49 L175.85,351.44 L178.05,351.35 L180.26,351.23 L182.46,351.08 L184.66,350.92 L186.87,350.74 L189.07,350.54 L191.27,350.34 L193.48,350.14 L195.68,349.95 L197.88,349.76 L200.09,349.59 L202.29,349.42 L204.49,349.23 L206.69,349.04 L208.90,348.83 L211.10,348.63 L213.30,348.43 L215.51,348.23 L217.71,348.04 L219.91,347.87 L222.12,347.71 L224.32,347.58 L226.52,347.48 L228.73,347.38 L230.93,347.28 L233.13,347.19 L235.34,347.10 L237.54,347.01 L239.74,346.93 L241.95,346.85 L244.15,346.78 L246.35,346.71 L248.56,346.65 L250.76,346.60 L252.96,346.56 L255.17,346.53 L257.37,346.51 L259.57,346.50 L261.77,346.51 L263.98,346.54 L266.18,346.60 L268.38,346.68 L270.59,346.78 L272.79,346.89 L274.99,347.02 L277.20,347.15 L279.40,347.29 L281.60,347.44 L283.81,347.59 L286.01,347.74 L288.21,347.89 L290.42,348.03 L292.62,348.17 L294.82,348.32 L297.03,348.48 L299.23,348.64 L301.43,348.82 L303.64,348.99 L305.84,349.18 L308.04,349.37 L310.25,349.57 L312.45,349.77 L314.65,349.98 L316.85,350.19 L319.06,350.41 L321.26,350.63 L323.46,350.87 L325.67,351.11 L327.87,351.37 L330.07,351.64 L332.28,351.92 L334.48,352.21 L336.68,352.50 L338.89,352.79 L341.09,353.09 L343.29,353.39 L345.50,353.69 L347.70,353.99 L349.90,354.29 L352.11,354.58 L354.31,354.89 L356.51,355.20 L358.72,355.51 L360.92,355.83 L363.12,356.14 L365.33,356.46 L367.53,356.78 L369.73,357.10 L371.93,357.42 L374.14,357.73 L376.34,358.04 L378.54,358.34 L380.75,358.63 L382.95,358.92 L385.15,359.21 L387.36,359.50 L389.56,359.79 L391.76,360.07 L393.97,360.35 L396.17,360.63 L398.37,360.91 L400.58,361.18 L402.78,361.45 L404.98,361.71 L407.19,361.97 L409.39,362.23 L411.59,362.48 L413.80,362.73 L416.00,362.97 L418.20,363.21 L420.41,363.44 L422.61,363.68 L424.81,363.91 L427.01,364.14 L429.22,364.36 L431.42,364.59 L433.62,364.82 L435.83,365.05 L438.03,365.29 L440.23,365.53 L442.44,365.76 L444.64,366.01 L446.84,366.25 L449.05,366.49 L451.25,366.73 L453.45,366.97 L455.66,367.22 L457.86,367.46 L460.06,367.71 L462.27,367.95 L464.47,368.19 L466.67,368.43 L468.88,368.67 L471.08,368.91 L473.28,369.15 L475.48,369.38 L477.69,369.62 L479.89,369.86 L482.09,370.10 L484.30,370.35 L486.50,370.60 L488.70,370.85 L490.91,371.10 L493.11,371.36 L495.31,371.62 L497.52,371.89 L499.72,372.16 L501.92,372.44 L504.13,372.73 L506.33,373.01 L508.53,373.30 L510.74,373.60 L512.94,373.89 L515.14,374.20 L517.35,374.50 L519.55,374.81 L521.75,375.12 L523.96,375.43 L526.16,375.75 L528.36,376.07 L530.56,376.40 L532.77,376.73 L534.97,377.06 L537.17,377.39 L539.38,377.73 L541.58,378.08 L543.78,378.42 L545.99,378.77 L548.19,379.12 L550.39,379.48 L552.60,379.84 L554.80,380.20" fill="none" stroke="#00f" stroke-width="1.4"/>
<path d="M72.30,355.00 L74.50,354.98 L76.71,354.96 L78.91,354.94 L81.11,354.92 L83.32,354.90 L85.52,354.88 L87.72,354.86 L89.93,354.83 L92.13,354.81 L94.33,354.79 L96.54,354.76 L98.74,354.74 L100.94,354.71 L103.14,354.68 L105.35,354.66 L107.55,354.63 L109.75,354.60 L111.96,354.58 L114.16,354.55 L116.36,354.52 L118.57,354.49 L120.77,354.47 L122.97,354.44 L125.18,354.41 L127.38,354.38 L129.58,354.35 L131.79,354.32 L133.99,354.28 L136.19,354.25 L138.40,354.21 L140.60,354.17 L142.80,354.13 L145.01,354.09 L147.21,354.04 L149.41,353.99 L151.62,353.92 L153.82,353.84 L156.02,353.74 L158.22,353.63 L160.43,353.52 L162.63,353.42 L164.83,353.31 L167.04,353.23 L169.24,353.16 L171.44,353.11 L173.65,353.08 L175.85,353.06 L178.05,353.04 L180.26,353.02 L182.46,353.01 L184.66,353.00 L186.87,352.99 L189.07,352.98 L191.27,352.96 L193.48,352.95 L195.68,352.94 L197.88,352.92 L200.09,352.90 L202.29,352.87 L204.49,352.84 L206.69,352.81 L208.90,352.77 L211.10,352.73 L213.30,352.69 L215.51,352.65 L217.71,352.61 L219.91,352.58 L222.12,352.54 L224.32,352.52 L226.52,352.50 L228.73,352.48 L230.93,352.46 L233.13,352.44 L235.34,352.42 L237.54,352.40 L239.74,352.39 L241.95,352.37 L244.15,352.36 L246.35,352.34 L248.56,352.33 L250.76,352.32 L252.96,352.31 L255.17,352.31 L257.37,352.30 L259.57,352.30 L261.77,352.31 L263.98,352.35 L266.18,352.42 L268.38,352.51 L270.59,352.62 L272.79,352.75 L274.99,352.90 L277.20,353.05 L279.40,353.21 L281.60,353.38 L283.81,353.55 L286.01,353.72 L288.21,353.88 L290.42,354.03 L292.62,354.18 L294.82,354.34 L297.03,354.50 L299.23,354.67 L301.43,354.84 L303.64,355.01 L305.84,355.20 L308.04,355.38 L310.25,355.58 L312.45,355.78 L314.65,355.98 L316.85,356.19 L319.06,356.41 L321.26,356.63 L323.46,356.87 L325.67,357.11 L327.87,357.37 L330.07,357.64 L332.28,357.92 L334.48,358.21 L336.68,358.50 L338.89,358.79 L341.09,359.09 L343.29,359.39 L345.50,359.69 L347.70,359.99 L349.90,360.29 L352.11,360.58 L354.31,360.88 L356.51,361.18 L358.72,361.48 L360.92,361.79 L363.12,362.09 L365.33,362.40 L367.53,362.72 L369.73,363.03 L371.93,363.35 L374.14,363.67 L376.34,363.99 L378.54,364.31 L380.75,364.64 L382.95,364.97 L385.15,365.30 L387.36,365.64 L389.56,365.97 L391.76,366.32 L393.97,366.66 L396.17,367.01 L398.37,367.36 L400.58,367.71 L402.78,368.06 L404.98,368.41 L407.19,368.75 L409.39,369.10 L411.59,369.45 L413.80,369.81 L416.00,370.17 L418.20,370.53 L420.41,370.89 L422.61,371.25 L424.81,371.62 L427.01,371.98 L429.22,372.33 L431.42,372.69 L433.62,373.03 L435.83,373.38 L438.03,373.71 L440.23,374.03 L442.44,374.34 L444.64,374.64 L446.84,374.92 L449.05,375.20 L451.25,375.48 L453.45,375.76 L455.66,376.06 L457.86,376.37 L460.06,376.71 L462.27,377.07 L464.47,377.44 L466.67,377.82 L468.88,378.21 L471.08,378.62 L473.28,379.04 L475.48,379.47 L477.69,379.91 L479.89,380.36 L482.09,380.81 L484.30,381.28 L486.50,381.75 L488.70,382.24 L490.91,382.72 L493.11,383.22 L495.31,383.72 L497.52,384.22 L499.72,384.73 L501.92,385.25 L504.13,385.78 L506.33,386.31 L508.53,386.85 L510.74,387.40 L512.94,387.96 L515.14,388.53 L517.35,389.10 L519.55,389.68 L521.75,390.28 L523.96,390.87 L526.16,391.48 L528.36,392.10 L530.56,392.72 L532.77,393.35 L534.97,393.99 L537.17,394.64 L539.38,395.30 L541.58,395.96 L543.78,396.63 L545.99,397.31 L548.19,398.00 L550.39,398.69 L552.60,399.39 L554.80,400.10" fill="none" stroke="#00f" stroke-width="1.4"/>
<path d="M72.30,351.25 L74.50,351.30 L76.71,351.35 L78.91,351.40 L81.11,351.45 L83.32,351.49 L85.52,351.54 L87.72,351.58 L89.93,351.62 L92.13,351.66 L94.33,351.70 L96.54,351.74 L98.74,351.78 L100.94,351.82 L103.14,351.85 L105.35,351.88 L107.55,351.92 L109.75,351.95 L111.96,351.98 L114.16,352.00 L116.36,352.03 L118.57,352.05 L120.77,352.08 L122.97,352.10 L125.18,352.12 L127.38,352.14 L129.58,352.16 L131.79,352.18 L133.99,352.19 L136.19,352.21 L138.40,352.23 L140.60,352.24 L142.80,352.26 L145.01,352.27 L147.21,352.29 L149.41,352.30 L151.62,352.32 L153.82,352.32 L156.02,352.33 L158.22,352.34 L160.43,352.34 L162.63,352.34 L164.83,352.33 L167.04,352.32 L169.24,352.32 L171.44,352.30 L173.65,352.28 L175.85,352.25 L178.05,352.19 L180.26,352.13 L182.46,352.05 L184.66,351.96 L186.87,351.86 L189.07,351.76 L191.27,351.65 L193.48,351.55 L195.68,351.44 L197.88,351.34 L200.09,351.25 L202.29,351.15 L204.49,351.04 L206.69,350.92 L208.90,350.80 L211.10,350.68 L213.30,350.56 L215.51,350.44 L217.71,350.33 L219.91,350.22 L222.12,350.13 L224.32,350.05 L226.52,349.99 L228.73,349.93 L230.93,349.87 L233.13,349.81 L235.34,349.76 L237.54,349.71 L239.74,349.66 L241.95,349.61 L244.15,349.57 L246.35,349.53 L248.56,349.49 L250.76,349.46 L252.96,349.44 L255.17,349.42 L257.37,349.41 L259.57,349.40 L261.77,349.41 L263.98,349.45 L266.18,349.51 L268.38,349.60 L270.59,349.70 L272.79,349.82 L274.99,349.96 L277.20,350.10 L279.40,350.25 L281.60,350.41 L283.81,350.57 L286.01,350.73 L288.21,350.88 L290.42,351.03 L292.62,351.17 L294.82,351.33 L297.03,351.49 L299.23,351.65 L301.43,351.83 L303.64,352.00 L305.84,352.19 L308.04,352.38 L310.25,352.57 L312.45,352.77 L314.65,352.98 L316.85,353.19 L319.06,353.41 L321.26,353.63 L323.46,353.87 L325.67,354.11 L327.87,354.37 L330.07,354.64 L332.28,354.92 L334.48,355.21 L336.68,355.50 L338.89,355.79 L341.09,356.09 L343.29,356.39 L345.50,356.69 L347.70,356.99 L349.90,357.29 L352.11,357.58 L354.31,357.88 L356.51,358.19 L358.72,358.50 L360.92,358.81 L363.12,359.12 L365.33,359.43 L367.53,359.75 L369.73,360.07 L371.93,360.38 L374.14,360.70 L376.34,361.01 L378.54,361.32 L380.75,361.63 L382.95,361.94 L385.15,362.26 L387.36,362.57 L389.56,362.88 L391.76,363.19 L393.97,363.51 L396.17,363.82 L398.37,364.13 L400.58,364.44 L402.78,364.75 L404.98,365.06 L407.19,365.36 L409.39,365.67 L411.59,365.97 L413.80,366.27 L416.00,366.57 L418.20,366.87 L420.41,367.17 L422.61,367.46 L424.81,367.76 L427.01,368.06 L429.22,368.35 L431.42,368.64 L433.62,368.93 L435.83,369.21 L438.03,369.50 L440.23,369.78 L442.44,370.05 L444.64,370.32 L446.84,370.58 L449.05,370.84 L451.25,371.10 L453.45,371.37 L455.66,371.64 L457.86,371.92 L460.06,372.21 L462.27,372.51 L464.47,372.81 L466.67,373.13 L468.88,373.44 L471.08,373.76 L473.28,374.09 L475.48,374.43 L477.69,374.76 L479.89,375.11 L482.09,375.46 L484.30,375.81 L486.50,376.17 L488.70,376.54 L490.91,376.91 L493.11,377.29 L495.31,377.67 L497.52,378.06 L499.72,378.45 L501.92,378.85 L504.13,379.25 L506.33,379.66 L508.53,380.08 L510.74,380.50 L512.94,380.93 L515.14,381.36 L517.35,381.80 L519.55,382.25 L521.75,382.70 L523.96,383.15 L526.16,383.62 L528.36,384.09 L530.56,384.56 L532.77,385.04 L534.97,385.53 L537.17,386.02 L539.38,386.51 L541.58,387.02 L543.78,387.53 L545.99,388.04 L548.19,388.56 L550.39,389.08 L552.60,389.61 L554.80,390.15" fill="none" stroke="#00f" stroke-width="1.4"/>
<path d="M503.9,316.67V592.85" stroke="#a020f0" stroke-width="1.8" stroke-dasharray="2 2.98" fill="none"/>
<rect x="486.1" y="347.4" width="7.6" height="7.4" fill="#006400"/>
<rect x="486.1" y="359.7" width="7.6" height="7.4" fill="#00c8c8"/>
<rect x="466.5" y="368.7" width="8.6" height="8.6" fill="#fff" stroke="#00f" stroke-width="1.6"/>
<rect x="499.85" y="374.25" width="8.2" height="8.5" fill="#fff" stroke="#a020f0" stroke-width="1.6"/>
</g>
<path d="M72.30,43.70 L74.73,43.92 L77.15,44.15 L79.58,44.37 L82.00,44.60 L84.43,44.83 L86.85,45.06 L89.28,45.29 L91.70,45.52 L94.13,45.76 L96.55,45.99 L98.98,46.23 L101.40,46.46 L103.83,46.70 L106.25,46.94 L108.68,47.18 L111.10,47.42 L113.53,47.66 L115.95,47.90 L118.38,48.15 L120.80,48.39 L123.23,48.63 L125.65,48.87 L128.08,49.12 L130.50,49.36 L132.93,49.60 L135.35,49.84 L137.78,50.09 L140.20,50.33 L142.63,50.57 L145.05,50.81 L147.48,51.05 L149.90,51.29 L152.33,51.53 L154.75,51.77 L157.18,52.01 L159.60,52.25 L162.03,52.50 L164.45,52.74 L166.88,52.99 L169.31,53.24 L171.73,53.49 L174.16,53.74 L176.58,54.00 L179.01,54.26 L181.43,54.52 L183.86,54.78 L186.28,55.05 L188.71,55.33 L191.13,55.60 L193.56,55.88 L195.98,56.17 L198.41,56.46 L200.83,56.76 L203.26,57.05 L205.68,57.36 L208.11,57.66 L210.53,57.97 L212.96,58.29 L215.38,58.61 L217.81,58.94 L220.23,59.27 L222.66,59.61 L225.08,59.96 L227.51,60.32 L229.93,60.68 L232.36,61.06 L234.78,61.44 L237.21,61.83 L239.63,62.24 L242.06,62.66 L244.48,63.09 L246.91,63.54 L249.33,64.01 L251.76,64.49 L254.18,64.98 L256.61,65.48 L259.03,66.00 L261.46,66.52 L263.88,67.06 L266.31,67.60 L268.74,68.15 L271.16,68.70 L273.59,69.26 L276.01,69.82 L278.44,70.38 L280.86,70.94 L283.29,71.51 L285.71,72.07 L288.14,72.63 L290.56,73.19 L292.99,73.75 L295.41,74.30 L297.84,74.85 L300.26,75.40 L302.69,75.96 L305.11,76.51 L307.54,77.07 L309.96,77.63 L312.39,78.20 L314.81,78.76 L317.24,79.34 L319.66,79.92 L322.09,80.51 L324.51,81.11 L326.94,81.72 L329.36,82.33 L331.79,82.96 L334.21,83.60 L336.64,84.25 L339.06,84.91 L341.49,85.59 L343.91,86.28 L346.34,86.99 L348.76,87.72 L351.19,88.47 L353.61,89.23 L356.04,90.01 L358.46,90.81 L360.89,91.61 L363.32,92.44 L365.74,93.27 L368.17,94.12 L370.59,94.98 L373.02,95.85 L375.44,96.72 L377.87,97.61 L380.29,98.50 L382.72,99.40 L385.14,100.31 L387.57,101.22 L389.99,102.13 L392.42,103.05 L394.84,103.97 L397.27,104.89 L399.69,105.81 L402.12,106.73 L404.54,107.69 L406.97,108.66 L409.39,109.65 L411.82,110.66 L414.24,111.68 L416.67,112.71 L419.09,113.75 L421.52,114.79 L423.94,115.82 L426.37,116.86 L428.79,117.89 L431.22,118.92 L433.64,119.93 L436.07,120.92 L438.49,121.90 L440.92,122.86 L443.34,123.81 L445.77,124.74 L448.19,125.66 L450.62,126.56 L453.04,127.46 L455.47,128.35 L457.89,129.23 L460.32,130.11 L462.75,130.98 L465.17,131.85 L467.60,132.71 L470.02,133.57 L472.45,134.43 L474.87,135.29 L477.30,136.15 L479.72,137.02 L482.15,137.89 L484.57,138.76 L487.00,139.64 L489.42,140.53 L491.85,141.42 L494.27,142.32 L496.70,143.24 L499.12,144.16 L501.55,145.10 L503.97,146.04 L506.40,146.98 L508.82,147.93 L511.25,148.88 L513.67,149.84 L516.10,150.80 L518.52,151.77 L520.95,152.73 L523.37,153.71 L525.80,154.68 L528.22,155.66 L530.65,156.65 L533.07,157.63 L535.50,158.63 L537.92,159.62 L540.35,160.62 L542.77,161.63 L545.20,162.63 L547.62,163.64 L550.05,164.66 L552.47,165.68 L554.90,166.70 L554.90,182.70 L552.47,181.45 L550.05,180.20 L547.62,178.97 L545.20,177.73 L542.77,176.51 L540.35,175.29 L537.92,174.08 L535.50,172.87 L533.07,171.68 L530.65,170.48 L528.22,169.30 L525.80,168.12 L523.37,166.96 L520.95,165.79 L518.52,164.64 L516.10,163.50 L513.67,162.36 L511.25,161.23 L508.82,160.11 L506.40,158.99 L503.97,157.89 L501.55,156.79 L499.12,155.71 L496.70,154.63 L494.27,153.57 L491.85,152.53 L489.42,151.49 L487.00,150.47 L484.57,149.45 L482.15,148.44 L479.72,147.44 L477.30,146.44 L474.87,145.45 L472.45,144.46 L470.02,143.48 L467.60,142.50 L465.17,141.52 L462.75,140.53 L460.32,139.55 L457.89,138.56 L455.47,137.57 L453.04,136.58 L450.62,135.58 L448.19,134.57 L445.77,133.55 L443.34,132.53 L440.92,131.49 L438.49,130.45 L436.07,129.38 L433.64,128.29 L431.22,127.19 L428.79,126.08 L426.37,124.96 L423.94,123.83 L421.52,122.71 L419.09,121.58 L416.67,120.45 L414.24,119.34 L411.82,118.23 L409.39,117.13 L406.97,116.06 L404.54,115.00 L402.12,113.96 L399.69,112.95 L397.27,111.95 L394.84,110.95 L392.42,109.96 L389.99,108.97 L387.57,107.98 L385.14,107.00 L382.72,106.03 L380.29,105.07 L377.87,104.11 L375.44,103.17 L373.02,102.23 L370.59,101.31 L368.17,100.40 L365.74,99.51 L363.32,98.63 L360.89,97.77 L358.46,96.92 L356.04,96.10 L353.61,95.29 L351.19,94.51 L348.76,93.74 L346.34,93.00 L343.91,92.28 L341.49,91.58 L339.06,90.89 L336.64,90.22 L334.21,89.56 L331.79,88.92 L329.36,88.28 L326.94,87.66 L324.51,87.05 L322.09,86.44 L319.66,85.85 L317.24,85.26 L314.81,84.68 L312.39,84.11 L309.96,83.54 L307.54,82.97 L305.11,82.41 L302.69,81.85 L300.26,81.30 L297.84,80.74 L295.41,80.18 L292.99,79.63 L290.56,79.07 L288.14,78.51 L285.71,77.94 L283.29,77.38 L280.86,76.81 L278.44,76.24 L276.01,75.67 L273.59,75.11 L271.16,74.55 L268.74,73.99 L266.31,73.44 L263.88,72.90 L261.46,72.36 L259.03,71.83 L256.61,71.31 L254.18,70.80 L251.76,70.31 L249.33,69.82 L246.91,69.35 L244.48,68.90 L242.06,68.46 L239.63,68.04 L237.21,67.63 L234.78,67.23 L232.36,66.84 L229.93,66.46 L227.51,66.09 L225.08,65.73 L222.66,65.37 L220.23,65.02 L217.81,64.68 L215.38,64.35 L212.96,64.02 L210.53,63.70 L208.11,63.38 L205.68,63.07 L203.26,62.76 L200.83,62.45 L198.41,62.15 L195.98,61.85 L193.56,61.56 L191.13,61.27 L188.71,60.99 L186.28,60.71 L183.86,60.43 L181.43,60.16 L179.01,59.89 L176.58,59.63 L174.16,59.37 L171.73,59.11 L169.31,58.86 L166.88,58.60 L164.45,58.35 L162.03,58.10 L159.60,57.86 L157.18,57.61 L154.75,57.37 L152.33,57.13 L149.90,56.89 L147.48,56.65 L145.05,56.41 L142.63,56.18 L140.20,55.95 L137.78,55.72 L135.35,55.50 L132.93,55.27 L130.50,55.05 L128.08,54.84 L125.65,54.62 L123.23,54.41 L120.80,54.20 L118.38,53.99 L115.95,53.79 L113.53,53.59 L111.10,53.39 L108.68,53.19 L106.25,52.99 L103.83,52.80 L101.40,52.61 L98.98,52.42 L96.55,52.24 L94.13,52.05 L91.70,51.87 L89.28,51.69 L86.85,51.52 L84.43,51.34 L82.00,51.17 L79.58,51.00 L77.15,50.83 L74.73,50.66 L72.30,50.50Z" fill="url(#hr)" stroke="none"/>
<path d="M72.30,43.15 L74.73,43.37 L77.15,43.60 L79.58,43.82 L82.00,44.05 L84.43,44.28 L86.85,44.51 L89.28,44.74 L91.70,44.97 L94.13,45.21 L96.55,45.44 L98.98,45.68 L101.40,45.91 L103.83,46.15 L106.25,46.39 L108.68,46.63 L111.10,46.87 L113.53,47.11 L115.95,47.35 L118.38,47.60 L120.80,47.84 L123.23,48.08 L125.65,48.32 L128.08,48.57 L130.50,48.81 L132.93,49.05 L135.35,49.29 L137.78,49.54 L140.20,49.78 L142.63,50.02 L145.05,50.26 L147.48,50.50 L149.90,50.74 L152.33,50.98 L154.75,51.22 L157.18,51.46 L159.60,51.70 L162.03,51.95 L164.45,52.19 L166.88,52.44 L169.31,52.69 L171.73,52.94 L174.16,53.19 L176.58,53.45 L179.01,53.71 L181.43,53.97 L183.86,54.23 L186.28,54.50 L188.71,54.78 L191.13,55.05 L193.56,55.33 L195.98,55.62 L198.41,55.91 L200.83,56.21 L203.26,56.50 L205.68,56.81 L208.11,57.11 L210.53,57.42 L212.96,57.74 L215.38,58.06 L217.81,58.39 L220.23,58.72 L222.66,59.06 L225.08,59.41 L227.51,59.77 L229.93,60.13 L232.36,60.51 L234.78,60.89 L237.21,61.28 L239.63,61.69 L242.06,62.11 L244.48,62.54 L246.91,62.99 L249.33,63.46 L251.76,63.94 L254.18,64.43 L256.61,64.93 L259.03,65.45 L261.46,65.97 L263.88,66.51 L266.31,67.05 L268.74,67.60 L271.16,68.15 L273.59,68.71 L276.01,69.27 L278.44,69.83 L280.86,70.39 L283.29,70.96 L285.71,71.52 L288.14,72.08 L290.56,72.64 L292.99,73.20 L295.41,73.75 L297.84,74.30 L300.26,74.85 L302.69,75.41 L305.11,75.96 L307.54,76.52 L309.96,77.08 L312.39,77.65 L314.81,78.21 L317.24,78.79 L319.66,79.37 L322.09,79.96 L324.51,80.56 L326.94,81.17 L329.36,81.78 L331.79,82.41 L334.21,83.05 L336.64,83.70 L339.06,84.36 L341.49,85.04 L343.91,85.73 L346.34,86.44 L348.76,87.17 L351.19,87.92 L353.61,88.68 L356.04,89.46 L358.46,90.26 L360.89,91.06 L363.32,91.89 L365.74,92.72 L368.17,93.57 L370.59,94.43 L373.02,95.30 L375.44,96.17 L377.87,97.06 L380.29,97.95 L382.72,98.85 L385.14,99.76 L387.57,100.67 L389.99,101.58 L392.42,102.50 L394.84,103.42 L397.27,104.34 L399.69,105.26 L402.12,106.18 L404.54,107.14 L406.97,108.11 L409.39,109.10 L411.82,110.11 L414.24,111.13 L416.67,112.16 L419.09,113.20 L421.52,114.24 L423.94,115.27 L426.37,116.31 L428.79,117.34 L431.22,118.37 L433.64,119.38 L436.07,120.38 L438.49,121.37 L440.92,122.33 L443.34,123.28 L445.77,124.21 L448.19,125.13 L450.62,126.05 L453.04,126.95 L455.47,127.84 L457.89,128.73 L460.32,129.61 L462.75,130.48 L465.17,131.35 L467.60,132.22 L470.02,133.08 L472.45,133.95 L474.87,134.81 L477.30,135.68 L479.72,136.55 L482.15,137.42 L484.57,138.30 L487.00,139.18 L489.42,140.07 L491.85,140.97 L494.27,141.88 L496.70,142.79 L499.12,143.72 L501.55,144.66 L503.97,145.61 L506.40,146.55 L508.82,147.51 L511.25,148.46 L513.67,149.42 L516.10,150.39 L518.52,151.36 L520.95,152.33 L523.37,153.30 L525.80,154.28 L528.22,155.27 L530.65,156.26 L533.07,157.25 L535.50,158.24 L537.92,159.24 L540.35,160.25 L542.77,161.25 L545.20,162.26 L547.62,163.27 L550.05,164.28 L552.47,165.30 L554.90,166.32 L554.90,167.07 L552.47,166.05 L550.05,165.03 L547.62,164.02 L545.20,163.01 L542.77,162.00 L540.35,161.00 L537.92,160.00 L535.50,159.01 L533.07,158.02 L530.65,157.04 L528.22,156.06 L525.80,155.08 L523.37,154.11 L520.95,153.14 L518.52,152.17 L516.10,151.21 L513.67,150.26 L511.25,149.30 L508.82,148.36 L506.40,147.41 L503.97,146.47 L501.55,145.53 L499.12,144.60 L496.70,143.68 L494.27,142.77 L491.85,141.87 L489.42,140.98 L487.00,140.10 L484.57,139.22 L482.15,138.35 L479.72,137.49 L477.30,136.63 L474.87,135.77 L472.45,134.91 L470.02,134.06 L467.60,133.20 L465.17,132.34 L462.75,131.48 L460.32,130.61 L457.89,129.74 L455.47,128.86 L453.04,127.97 L450.62,127.08 L448.19,126.18 L445.77,125.26 L443.34,124.33 L440.92,123.39 L438.49,122.44 L436.07,121.46 L433.64,120.47 L431.22,119.46 L428.79,118.44 L426.37,117.41 L423.94,116.37 L421.52,115.34 L419.09,114.30 L416.67,113.26 L414.24,112.23 L411.82,111.21 L409.39,110.20 L406.97,109.21 L404.54,108.24 L402.12,107.28 L399.69,106.36 L397.27,105.44 L394.84,104.52 L392.42,103.60 L389.99,102.68 L387.57,101.77 L385.14,100.86 L382.72,99.95 L380.29,99.05 L377.87,98.16 L375.44,97.27 L373.02,96.40 L370.59,95.53 L368.17,94.67 L365.74,93.82 L363.32,92.99 L360.89,92.16 L358.46,91.36 L356.04,90.56 L353.61,89.78 L351.19,89.02 L348.76,88.27 L346.34,87.54 L343.91,86.83 L341.49,86.14 L339.06,85.46 L336.64,84.80 L334.21,84.15 L331.79,83.51 L329.36,82.88 L326.94,82.27 L324.51,81.66 L322.09,81.06 L319.66,80.47 L317.24,79.89 L314.81,79.31 L312.39,78.75 L309.96,78.18 L307.54,77.62 L305.11,77.06 L302.69,76.51 L300.26,75.95 L297.84,75.40 L295.41,74.85 L292.99,74.30 L290.56,73.74 L288.14,73.18 L285.71,72.62 L283.29,72.06 L280.86,71.49 L278.44,70.93 L276.01,70.37 L273.59,69.81 L271.16,69.25 L268.74,68.70 L266.31,68.15 L263.88,67.61 L261.46,67.07 L259.03,66.55 L256.61,66.03 L254.18,65.53 L251.76,65.04 L249.33,64.56 L246.91,64.09 L244.48,63.64 L242.06,63.21 L239.63,62.79 L237.21,62.38 L234.78,61.99 L232.36,61.61 L229.93,61.23 L227.51,60.87 L225.08,60.51 L222.66,60.16 L220.23,59.82 L217.81,59.49 L215.38,59.16 L212.96,58.84 L210.53,58.52 L208.11,58.21 L205.68,57.91 L203.26,57.60 L200.83,57.31 L198.41,57.01 L195.98,56.72 L193.56,56.43 L191.13,56.15 L188.71,55.88 L186.28,55.60 L183.86,55.33 L181.43,55.07 L179.01,54.81 L176.58,54.55 L174.16,54.29 L171.73,54.04 L169.31,53.79 L166.88,53.54 L164.45,53.29 L162.03,53.05 L159.60,52.80 L157.18,52.56 L154.75,52.32 L152.33,52.08 L149.90,51.84 L147.48,51.60 L145.05,51.36 L142.63,51.12 L140.20,50.88 L137.78,50.64 L135.35,50.39 L132.93,50.15 L130.50,49.91 L128.08,49.67 L125.65,49.42 L123.23,49.18 L120.80,48.94 L118.38,48.70 L115.95,48.45 L113.53,48.21 L111.10,47.97 L108.68,47.73 L106.25,47.49 L103.83,47.25 L101.40,47.01 L98.98,46.78 L96.55,46.54 L94.13,46.31 L91.70,46.07 L89.28,45.84 L86.85,45.61 L84.43,45.38 L82.00,45.15 L79.58,44.92 L77.15,44.70 L74.73,44.47 L72.30,44.25Z" fill="#f00" stroke="none"/>
<path d="M72.30,49.95 L74.73,50.11 L77.15,50.28 L79.58,50.45 L82.00,50.62 L84.43,50.79 L86.85,50.97 L89.28,51.14 L91.70,51.32 L94.13,51.50 L96.55,51.69 L98.98,51.87 L101.40,52.06 L103.83,52.25 L106.25,52.44 L108.68,52.64 L111.10,52.84 L113.53,53.04 L115.95,53.24 L118.38,53.44 L120.80,53.65 L123.23,53.86 L125.65,54.07 L128.08,54.29 L130.50,54.50 L132.93,54.72 L135.35,54.95 L137.78,55.17 L140.20,55.40 L142.63,55.63 L145.05,55.86 L147.48,56.10 L149.90,56.34 L152.33,56.58 L154.75,56.82 L157.18,57.06 L159.60,57.31 L162.03,57.55 L164.45,57.80 L166.88,58.05 L169.31,58.31 L171.73,58.56 L174.16,58.82 L176.58,59.08 L179.01,59.34 L181.43,59.61 L183.86,59.88 L186.28,60.16 L188.71,60.44 L191.13,60.72 L193.56,61.01 L195.98,61.30 L198.41,61.60 L200.83,61.90 L203.26,62.21 L205.68,62.52 L208.11,62.83 L210.53,63.15 L212.96,63.47 L215.38,63.80 L217.81,64.13 L220.23,64.47 L222.66,64.82 L225.08,65.18 L227.51,65.54 L229.93,65.91 L232.36,66.29 L234.78,66.68 L237.21,67.08 L239.63,67.49 L242.06,67.91 L244.48,68.35 L246.91,68.80 L249.33,69.27 L251.76,69.76 L254.18,70.25 L256.61,70.76 L259.03,71.28 L261.46,71.81 L263.88,72.35 L266.31,72.89 L268.74,73.44 L271.16,74.00 L273.59,74.56 L276.01,75.12 L278.44,75.69 L280.86,76.26 L283.29,76.83 L285.71,77.39 L288.14,77.96 L290.56,78.52 L292.99,79.08 L295.41,79.63 L297.84,80.19 L300.26,80.75 L302.69,81.30 L305.11,81.86 L307.54,82.42 L309.96,82.99 L312.39,83.56 L314.81,84.13 L317.24,84.71 L319.66,85.30 L322.09,85.89 L324.51,86.50 L326.94,87.11 L329.36,87.73 L331.79,88.37 L334.21,89.01 L336.64,89.67 L339.06,90.34 L341.49,91.03 L343.91,91.73 L346.34,92.45 L348.76,93.19 L351.19,93.96 L353.61,94.74 L356.04,95.55 L358.46,96.37 L360.89,97.22 L363.32,98.08 L365.74,98.96 L368.17,99.85 L370.59,100.76 L373.02,101.68 L375.44,102.62 L377.87,103.56 L380.29,104.52 L382.72,105.48 L385.14,106.45 L387.57,107.43 L389.99,108.42 L392.42,109.41 L394.84,110.40 L397.27,111.40 L399.69,112.40 L402.12,113.41 L404.54,114.45 L406.97,115.51 L409.39,116.58 L411.82,117.68 L414.24,118.79 L416.67,119.90 L419.09,121.03 L421.52,122.16 L423.94,123.28 L426.37,124.41 L428.79,125.53 L431.22,126.65 L433.64,127.75 L436.07,128.84 L438.49,129.91 L440.92,130.96 L443.34,132.00 L445.77,133.03 L448.19,134.05 L450.62,135.06 L453.04,136.06 L455.47,137.06 L457.89,138.06 L460.32,139.05 L462.75,140.03 L465.17,141.02 L467.60,142.01 L470.02,142.99 L472.45,143.98 L474.87,144.97 L477.30,145.97 L479.72,146.97 L482.15,147.97 L484.57,148.99 L487.00,150.01 L489.42,151.04 L491.85,152.08 L494.27,153.13 L496.70,154.19 L499.12,155.27 L501.55,156.36 L503.97,157.46 L506.40,158.57 L508.82,159.68 L511.25,160.81 L513.67,161.94 L516.10,163.08 L518.52,164.23 L520.95,165.39 L523.37,166.55 L525.80,167.73 L528.22,168.91 L530.65,170.09 L533.07,171.29 L535.50,172.49 L537.92,173.70 L540.35,174.92 L542.77,176.13 L545.20,177.36 L547.62,178.59 L550.05,179.83 L552.47,181.07 L554.90,182.32 L554.90,183.07 L552.47,181.82 L550.05,180.58 L547.62,179.34 L545.20,178.11 L542.77,176.88 L540.35,175.67 L537.92,174.46 L535.50,173.26 L533.07,172.06 L530.65,170.87 L528.22,169.69 L525.80,168.52 L523.37,167.36 L520.95,166.20 L518.52,165.05 L516.10,163.91 L513.67,162.77 L511.25,161.65 L508.82,160.53 L506.40,159.42 L503.97,158.32 L501.55,157.23 L499.12,156.15 L496.70,155.08 L494.27,154.02 L491.85,152.98 L489.42,151.95 L487.00,150.92 L484.57,149.91 L482.15,148.91 L479.72,147.91 L477.30,146.92 L474.87,145.93 L472.45,144.95 L470.02,143.97 L467.60,142.99 L465.17,142.01 L462.75,141.03 L460.32,140.05 L457.89,139.07 L455.47,138.08 L453.04,137.09 L450.62,136.09 L448.19,135.09 L445.77,134.08 L443.34,133.06 L440.92,132.03 L438.49,130.98 L436.07,129.92 L433.64,128.84 L431.22,127.74 L428.79,126.63 L426.37,125.51 L423.94,124.38 L421.52,123.26 L419.09,122.13 L416.67,121.00 L414.24,119.89 L411.82,118.78 L409.39,117.68 L406.97,116.61 L404.54,115.55 L402.12,114.51 L399.69,113.50 L397.27,112.50 L394.84,111.50 L392.42,110.51 L389.99,109.52 L387.57,108.53 L385.14,107.55 L382.72,106.58 L380.29,105.62 L377.87,104.66 L375.44,103.72 L373.02,102.78 L370.59,101.86 L368.17,100.95 L365.74,100.06 L363.32,99.18 L360.89,98.32 L358.46,97.47 L356.04,96.65 L353.61,95.84 L351.19,95.06 L348.76,94.29 L346.34,93.55 L343.91,92.83 L341.49,92.13 L339.06,91.44 L336.64,90.77 L334.21,90.11 L331.79,89.47 L329.36,88.83 L326.94,88.21 L324.51,87.60 L322.09,86.99 L319.66,86.40 L317.24,85.81 L314.81,85.23 L312.39,84.66 L309.96,84.09 L307.54,83.52 L305.11,82.96 L302.69,82.40 L300.26,81.85 L297.84,81.29 L295.41,80.73 L292.99,80.18 L290.56,79.62 L288.14,79.06 L285.71,78.49 L283.29,77.93 L280.86,77.36 L278.44,76.79 L276.01,76.22 L273.59,75.66 L271.16,75.10 L268.74,74.54 L266.31,73.99 L263.88,73.45 L261.46,72.91 L259.03,72.38 L256.61,71.86 L254.18,71.35 L251.76,70.86 L249.33,70.37 L246.91,69.90 L244.48,69.45 L242.06,69.01 L239.63,68.59 L237.21,68.18 L234.78,67.78 L232.36,67.39 L229.93,67.01 L227.51,66.64 L225.08,66.28 L222.66,65.92 L220.23,65.57 L217.81,65.23 L215.38,64.90 L212.96,64.57 L210.53,64.25 L208.11,63.93 L205.68,63.62 L203.26,63.31 L200.83,63.00 L198.41,62.70 L195.98,62.40 L193.56,62.11 L191.13,61.82 L188.71,61.54 L186.28,61.26 L183.86,60.98 L181.43,60.71 L179.01,60.44 L176.58,60.18 L174.16,59.92 L171.73,59.66 L169.31,59.41 L166.88,59.15 L164.45,58.90 L162.03,58.65 L159.60,58.41 L157.18,58.16 L154.75,57.92 L152.33,57.68 L149.90,57.44 L147.48,57.20 L145.05,56.96 L142.63,56.73 L140.20,56.50 L137.78,56.27 L135.35,56.05 L132.93,55.82 L130.50,55.60 L128.08,55.39 L125.65,55.17 L123.23,54.96 L120.80,54.75 L118.38,54.54 L115.95,54.34 L113.53,54.14 L111.10,53.94 L108.68,53.74 L106.25,53.54 L103.83,53.35 L101.40,53.16 L98.98,52.97 L96.55,52.79 L94.13,52.60 L91.70,52.42 L89.28,52.24 L86.85,52.07 L84.43,51.89 L82.00,51.72 L79.58,51.55 L77.15,51.38 L74.73,51.21 L72.30,51.05Z" fill="#f00" stroke="none"/>
<path d="M426.37,118.89 L428.79,119.94 L431.22,120.98 L433.64,122.02 L436.07,123.04 L438.49,124.04 L440.92,125.02 L443.34,125.99 L445.77,126.94 L448.19,127.88 L450.62,128.82 L453.04,129.74 L455.47,130.66 L457.89,131.57 L460.32,132.47 L462.75,133.37 L465.17,134.26 L467.60,135.16 L470.02,136.05 L472.45,136.94 L474.87,137.83 L477.30,138.73 L479.72,139.62 L482.15,140.53 L484.57,141.43 L487.00,142.35 L489.42,143.27 L491.85,144.20 L494.27,145.14 L496.70,146.09 L499.12,147.05 L501.55,148.02 L503.97,149.00 L506.40,149.99 L508.82,150.98 L511.25,151.97 L513.67,152.97 L516.10,153.97 L518.52,154.98 L520.95,156.00 L523.37,157.02 L525.80,158.04 L528.22,159.07 L530.65,160.11 L533.07,161.14 L535.50,162.19 L537.92,163.24 L540.35,164.29 L542.77,165.35 L545.20,166.41 L547.62,167.47 L550.05,168.55 L552.47,169.62 L554.90,170.70" fill="none" stroke="#f00" stroke-width="0.6"/>
<path d="M72.30,47.10 L74.73,47.29 L77.15,47.49 L79.58,47.69 L82.00,47.88 L84.43,48.08 L86.85,48.29 L89.28,48.49 L91.70,48.70 L94.13,48.90 L96.55,49.11 L98.98,49.33 L101.40,49.54 L103.83,49.75 L106.25,49.97 L108.68,50.19 L111.10,50.40 L113.53,50.62 L115.95,50.85 L118.38,51.07 L120.80,51.29 L123.23,51.52 L125.65,51.75 L128.08,51.98 L130.50,52.21 L132.93,52.44 L135.35,52.67 L137.78,52.90 L140.20,53.14 L142.63,53.37 L145.05,53.61 L147.48,53.85 L149.90,54.09 L152.33,54.33 L154.75,54.57 L157.18,54.81 L159.60,55.06 L162.03,55.30 L164.45,55.55 L166.88,55.80 L169.31,56.05 L171.73,56.30 L174.16,56.56 L176.58,56.81 L179.01,57.08 L181.43,57.34 L183.86,57.61 L186.28,57.88 L188.71,58.16 L191.13,58.44 L193.56,58.72 L195.98,59.01 L198.41,59.30 L200.83,59.60 L203.26,59.90 L205.68,60.21 L208.11,60.52 L210.53,60.83 L212.96,61.15 L215.38,61.48 L217.81,61.81 L220.23,62.15 L222.66,62.49 L225.08,62.84 L227.51,63.20 L229.93,63.57 L232.36,63.95 L234.78,64.34 L237.21,64.73 L239.63,65.14 L242.06,65.56 L244.48,65.99 L246.91,66.45 L249.33,66.91 L251.76,67.40 L254.18,67.89 L256.61,68.40 L259.03,68.91 L261.46,69.44 L263.88,69.98 L266.31,70.52 L268.74,71.07 L271.16,71.62 L273.59,72.18 L276.01,72.75 L278.44,73.31 L280.86,73.88 L283.29,74.44 L285.71,75.01 L288.14,75.57 L290.56,76.13 L292.99,76.69 L295.41,77.24 L297.84,77.80 L300.26,78.35 L302.69,78.91 L305.11,79.46 L307.54,80.02 L309.96,80.58 L312.39,81.15 L314.81,81.72 L317.24,82.30 L319.66,82.89 L322.09,83.48 L324.51,84.08 L326.94,84.69 L329.36,85.31 L331.79,85.94 L334.21,86.58 L336.64,87.23 L339.06,87.90 L341.49,88.59 L343.91,89.28 L346.34,90.00 L348.76,90.73 L351.19,91.49 L353.61,92.26 L356.04,93.05 L358.46,93.86 L360.89,94.69 L363.32,95.53 L365.74,96.39 L368.17,97.26 L370.59,98.14 L373.02,99.04 L375.44,99.94 L377.87,100.86 L380.29,101.78 L382.72,102.72 L385.14,103.65 L387.57,104.60 L389.99,105.55 L392.42,106.50 L394.84,107.46 L397.27,108.42 L399.69,109.38 L402.12,110.35 L404.54,111.34 L406.97,112.36 L409.39,113.39 L411.82,114.45 L414.24,115.51 L416.67,116.58 L419.09,117.66 L421.52,118.75 L423.94,119.83 L426.37,120.91 L428.79,121.99 L431.22,123.05 L433.64,124.11 L436.07,125.15 L438.49,126.17 L440.92,127.18 L443.34,128.17 L445.77,129.14 L448.19,130.11 L450.62,131.07 L453.04,132.02 L455.47,132.96 L457.89,133.90 L460.32,134.83 L462.75,135.76 L465.17,136.68 L467.60,137.60 L470.02,138.53 L472.45,139.45 L474.87,140.37 L477.30,141.30 L479.72,142.23 L482.15,143.16 L484.57,144.10 L487.00,145.05 L489.42,146.01 L491.85,146.97 L494.27,147.95 L496.70,148.94 L499.12,149.94 L501.55,150.95 L503.97,151.96 L506.40,152.99 L508.82,154.02 L511.25,155.06 L513.67,156.10 L516.10,157.15 L518.52,158.20 L520.95,159.26 L523.37,160.33 L525.80,161.40 L528.22,162.48 L530.65,163.57 L533.07,164.66 L535.50,165.75 L537.92,166.85 L540.35,167.96 L542.77,169.07 L545.20,170.18 L547.62,171.31 L550.05,172.43 L552.47,173.56 L554.90,174.70" fill="none" stroke="#f00" stroke-width="1.3"/>
<path d="M81.90,50.00V61.00" stroke="#f00" stroke-width="1.2" fill="none"/>
<path d="M79.00,58.10 L84.80,58.10 L81.90,52.90Z" fill="#f00"/>
<path d="M140.00,41.00V54.00" stroke="#f00" stroke-width="1.2" fill="none"/>
<path d="M137.10,50.10 L142.90,50.10 L140.00,44.90Z" fill="#f00"/>
<path d="M169.00,56.00V68.90" stroke="#f00" stroke-width="1.2" fill="none"/>
<path d="M166.10,65.10 L171.90,65.10 L169.00,59.90Z" fill="#f00"/>
<path d="M203.30,47.00V62.00" stroke="#f00" stroke-width="1.2" fill="none"/>
<path d="M200.40,57.60 L206.20,57.60 L203.30,52.40Z" fill="#f00"/>
<path d="M222.30,45.00V62.00" stroke="#f00" stroke-width="1.2" fill="none"/>
<path d="M219.40,56.60 L225.20,56.60 L222.30,51.40Z" fill="#f00"/>
<path d="M246.70,49.00V66.00" stroke="#f00" stroke-width="1.2" fill="none"/>
<path d="M243.80,60.10 L249.60,60.10 L246.70,54.90Z" fill="#f00"/>
<path d="M260.70,61.00V76.90" stroke="#f00" stroke-width="1.2" fill="none"/>
<path d="M257.80,71.60 L263.60,71.60 L260.70,66.40Z" fill="#f00"/>
<path d="M279.70,64.00V78.80" stroke="#f00" stroke-width="1.2" fill="none"/>
<path d="M276.80,74.60 L282.60,74.60 L279.70,69.40Z" fill="#f00"/>
<path d="M291.30,79.00V96.20" stroke="#f00" stroke-width="1.2" fill="none"/>
<path d="M288.40,90.00 L294.20,90.00 L291.30,84.80Z" fill="#f00"/>
<path d="M307.00,66.00V81.00" stroke="#f00" stroke-width="1.2" fill="none"/>
<path d="M304.10,77.60 L309.90,77.60 L307.00,72.40Z" fill="#f00"/>
<path d="M316.20,68.00V88.30" stroke="#f00" stroke-width="1.2" fill="none"/>
<path d="M313.30,80.60 L319.10,80.60 L316.20,75.40Z" fill="#f00"/>
<path d="M329.40,73.00V90.40" stroke="#f00" stroke-width="1.2" fill="none"/>
<path d="M326.50,84.60 L332.30,84.60 L329.40,79.40Z" fill="#f00"/>
<path d="M337.70,82.00V99.50" stroke="#f00" stroke-width="1.2" fill="none"/>
<path d="M334.80,93.60 L340.60,93.60 L337.70,88.40Z" fill="#f00"/>
<path d="M349.10,74.00V93.80" stroke="#f00" stroke-width="1.2" fill="none"/>
<path d="M346.20,86.50 L352.00,86.50 L349.10,81.30Z" fill="#f00"/>
<path d="M364.50,88.00V106.00" stroke="#f00" stroke-width="1.2" fill="none"/>
<path d="M361.60,99.60 L367.40,99.60 L364.50,94.40Z" fill="#f00"/>
<path d="M366.50,82.00V106.00" stroke="#f00" stroke-width="1.2" fill="none"/>
<path d="M363.60,96.40 L369.40,96.40 L366.50,91.20Z" fill="#f00"/>
<path d="M388.00,87.00V104.60" stroke="#f00" stroke-width="1.2" fill="none"/>
<path d="M385.10,98.50 L390.90,98.50 L388.00,93.30Z" fill="#f00"/>
<path d="M393.30,92.00V113.70" stroke="#f00" stroke-width="1.2" fill="none"/>
<path d="M390.40,105.60 L396.20,105.60 L393.30,100.40Z" fill="#f00"/>
<path d="M413.70,94.00V119.50" stroke="#f00" stroke-width="1.2" fill="none"/>
<path d="M410.80,109.50 L416.60,109.50 L413.70,104.30Z" fill="#f00"/>
<path d="M422.80,111.00V133.50" stroke="#f00" stroke-width="1.2" fill="none"/>
<path d="M419.90,124.80 L425.70,124.80 L422.80,119.60Z" fill="#f00"/>
<path d="M439.40,110.00V132.70" stroke="#f00" stroke-width="1.2" fill="none"/>
<path d="M436.50,124.10 L442.30,124.10 L439.40,118.90Z" fill="#f00"/>
<path d="M456.20,126.80V148.30" stroke="#f00" stroke-width="1.2" fill="none"/>
<path d="M453.30,138.60 L459.10,138.60 L456.20,133.40Z" fill="#f00"/>
<path d="M469.40,131.70V151.80" stroke="#f00" stroke-width="1.2" fill="none"/>
<path d="M466.50,142.60 L472.30,142.60 L469.40,137.40Z" fill="#f00"/>
<path d="M507.10,131.00V168.00" stroke="#f00" stroke-width="1.2" fill="none"/>
<path d="M504.20,151.10 L510.00,151.10 L507.10,145.90Z" fill="#f00"/>
<path d="M529.10,151.30V180.60" stroke="#f00" stroke-width="1.2" fill="none"/>
<path d="M526.20,168.40 L532.00,168.40 L529.10,163.20Z" fill="#f00"/>
<path d="M72.30,297.50 L74.73,297.29 L77.15,297.07 L79.58,296.86 L82.00,296.64 L84.43,296.41 L86.85,296.19 L89.28,295.96 L91.70,295.72 L94.13,295.49 L96.55,295.25 L98.98,295.01 L101.40,294.76 L103.83,294.52 L106.25,294.27 L108.68,294.01 L111.10,293.76 L113.53,293.50 L115.95,293.24 L118.38,292.98 L120.80,292.72 L123.23,292.45 L125.65,292.18 L128.08,291.91 L130.50,291.64 L132.93,291.36 L135.35,291.08 L137.78,290.81 L140.20,290.52 L142.63,290.24 L145.05,289.95 L147.48,289.66 L149.90,289.37 L152.33,289.07 L154.75,288.76 L157.18,288.46 L159.60,288.15 L162.03,287.83 L164.45,287.52 L166.88,287.20 L169.31,286.87 L171.73,286.54 L174.16,286.21 L176.58,285.88 L179.01,285.54 L181.43,285.20 L183.86,284.85 L186.28,284.51 L188.71,284.15 L191.13,283.80 L193.56,283.44 L195.98,283.08 L198.41,282.72 L200.83,282.36 L203.26,281.99 L205.68,281.61 L208.11,281.23 L210.53,280.85 L212.96,280.46 L215.38,280.06 L217.81,279.65 L220.23,279.24 L222.66,278.82 L225.08,278.39 L227.51,277.95 L229.93,277.49 L232.36,277.03 L234.78,276.56 L237.21,276.07 L239.63,275.57 L242.06,275.07 L244.48,274.55 L246.91,274.02 L249.33,273.49 L251.76,272.94 L254.18,272.39 L256.61,271.83 L259.03,271.25 L261.46,270.67 L263.88,270.09 L266.31,269.49 L268.74,268.89 L271.16,268.29 L273.59,267.67 L276.01,267.05 L278.44,266.43 L280.86,265.80 L283.29,265.16 L285.71,264.52 L288.14,263.88 L290.56,263.23 L292.99,262.58 L295.41,261.93 L297.84,261.27 L300.26,260.61 L302.69,259.93 L305.11,259.24 L307.54,258.54 L309.96,257.82 L312.39,257.08 L314.81,256.34 L317.24,255.59 L319.66,254.83 L322.09,254.07 L324.51,253.30 L326.94,252.53 L329.36,251.76 L331.79,251.00 L334.21,250.24 L336.64,249.48 L339.06,248.73 L341.49,247.99 L343.91,247.25 L346.34,246.51 L348.76,245.77 L351.19,245.03 L353.61,244.29 L356.04,243.55 L358.46,242.81 L360.89,242.07 L363.32,241.33 L365.74,240.60 L368.17,239.86 L370.59,239.13 L373.02,238.40 L375.44,237.67 L377.87,236.94 L380.29,236.21 L382.72,235.49 L385.14,234.75 L387.57,234.02 L389.99,233.28 L392.42,232.54 L394.84,231.79 L397.27,231.05 L399.69,230.30 L402.12,229.56 L404.54,228.81 L406.97,228.07 L409.39,227.33 L411.82,226.59 L414.24,225.85 L416.67,225.12 L419.09,224.39 L421.52,223.67 L423.94,222.96 L426.37,222.24 L428.79,221.54 L431.22,220.85 L433.64,220.16 L436.07,219.48 L438.49,218.81 L440.92,218.15 L443.34,217.48 L445.77,216.81 L448.19,216.12 L450.62,215.43 L453.04,214.74 L455.47,214.05 L457.89,213.36 L460.32,212.66 L462.75,211.98 L465.17,211.30 L467.60,210.62 L470.02,209.96 L472.45,209.31 L474.87,208.67 L477.30,208.05 L479.72,207.44 L482.15,206.85 L484.57,206.29 L487.00,205.74 L489.42,205.23 L491.85,204.73 L494.27,204.27 L496.70,203.84 L499.12,203.44 L501.55,203.06 L503.97,202.69 L506.40,202.33 L508.82,201.96 L511.25,201.60 L513.67,201.25 L516.10,200.90 L518.52,200.56 L520.95,200.23 L523.37,199.90 L525.80,199.58 L528.22,199.28 L530.65,198.98 L533.07,198.70 L535.50,198.43 L537.92,198.17 L540.35,197.92 L542.77,197.69 L545.20,197.48 L547.62,197.28 L550.05,197.10 L552.47,196.94 L554.90,196.80 L554.90,206.40 L552.47,206.42 L550.05,206.46 L547.62,206.51 L545.20,206.59 L542.77,206.68 L540.35,206.79 L537.92,206.92 L535.50,207.07 L533.07,207.22 L530.65,207.40 L528.22,207.58 L525.80,207.78 L523.37,208.00 L520.95,208.22 L518.52,208.45 L516.10,208.69 L513.67,208.95 L511.25,209.21 L508.82,209.47 L506.40,209.75 L503.97,210.03 L501.55,210.32 L499.12,210.61 L496.70,210.93 L494.27,211.28 L491.85,211.67 L489.42,212.08 L487.00,212.52 L484.57,212.99 L482.15,213.49 L479.72,214.00 L477.30,214.53 L474.87,215.09 L472.45,215.66 L470.02,216.24 L467.60,216.84 L465.17,217.45 L462.75,218.07 L460.32,218.70 L457.89,219.33 L455.47,219.97 L453.04,220.60 L450.62,221.24 L448.19,221.88 L445.77,222.52 L443.34,223.14 L440.92,223.77 L438.49,224.38 L436.07,225.01 L433.64,225.64 L431.22,226.29 L428.79,226.94 L426.37,227.60 L423.94,228.27 L421.52,228.94 L419.09,229.63 L416.67,230.31 L414.24,231.01 L411.82,231.70 L409.39,232.41 L406.97,233.11 L404.54,233.82 L402.12,234.54 L399.69,235.25 L397.27,235.97 L394.84,236.69 L392.42,237.41 L389.99,238.13 L387.57,238.85 L385.14,239.57 L382.72,240.30 L380.29,241.01 L377.87,241.73 L375.44,242.45 L373.02,243.18 L370.59,243.90 L368.17,244.63 L365.74,245.36 L363.32,246.09 L360.89,246.82 L358.46,247.56 L356.04,248.29 L353.61,249.03 L351.19,249.76 L348.76,250.50 L346.34,251.23 L343.91,251.97 L341.49,252.70 L339.06,253.44 L336.64,254.18 L334.21,254.93 L331.79,255.69 L329.36,256.45 L326.94,257.21 L324.51,257.98 L322.09,258.74 L319.66,259.50 L317.24,260.25 L314.81,261.00 L312.39,261.74 L309.96,262.47 L307.54,263.19 L305.11,263.89 L302.69,264.58 L300.26,265.25 L297.84,265.91 L295.41,266.56 L292.99,267.21 L290.56,267.86 L288.14,268.51 L285.71,269.15 L283.29,269.79 L280.86,270.42 L278.44,271.05 L276.01,271.67 L273.59,272.29 L271.16,272.90 L268.74,273.51 L266.31,274.11 L263.88,274.70 L261.46,275.28 L259.03,275.86 L256.61,276.43 L254.18,276.99 L251.76,277.55 L249.33,278.09 L246.91,278.63 L244.48,279.15 L242.06,279.67 L239.63,280.18 L237.21,280.67 L234.78,281.16 L232.36,281.63 L229.93,282.09 L227.51,282.55 L225.08,282.99 L222.66,283.42 L220.23,283.85 L217.81,284.26 L215.38,284.67 L212.96,285.07 L210.53,285.47 L208.11,285.86 L205.68,286.24 L203.26,286.62 L200.83,287.00 L198.41,287.37 L195.98,287.74 L193.56,288.10 L191.13,288.47 L188.71,288.83 L186.28,289.19 L183.86,289.54 L181.43,289.90 L179.01,290.25 L176.58,290.60 L174.16,290.94 L171.73,291.28 L169.31,291.62 L166.88,291.96 L164.45,292.29 L162.03,292.62 L159.60,292.94 L157.18,293.27 L154.75,293.58 L152.33,293.90 L149.90,294.21 L147.48,294.52 L145.05,294.83 L142.63,295.13 L140.20,295.43 L137.78,295.72 L135.35,296.02 L132.93,296.31 L130.50,296.60 L128.08,296.89 L125.65,297.18 L123.23,297.46 L120.80,297.75 L118.38,298.03 L115.95,298.31 L113.53,298.58 L111.10,298.86 L108.68,299.13 L106.25,299.40 L103.83,299.67 L101.40,299.93 L98.98,300.19 L96.55,300.45 L94.13,300.71 L91.70,300.97 L89.28,301.22 L86.85,301.47 L84.43,301.71 L82.00,301.96 L79.58,302.20 L77.15,302.43 L74.73,302.67 L72.30,302.90Z" fill="url(#hb)" stroke="none"/>
<path d="M72.30,297.20 L74.73,296.99 L77.15,296.77 L79.58,296.56 L82.00,296.34 L84.43,296.11 L86.85,295.89 L89.28,295.66 L91.70,295.42 L94.13,295.19 L96.55,294.95 L98.98,294.71 L101.40,294.46 L103.83,294.22 L106.25,293.97 L108.68,293.71 L111.10,293.46 L113.53,293.20 L115.95,292.94 L118.38,292.68 L120.80,292.42 L123.23,292.15 L125.65,291.88 L128.08,291.61 L130.50,291.34 L132.93,291.06 L135.35,290.78 L137.78,290.51 L140.20,290.22 L142.63,289.94 L145.05,289.65 L147.48,289.36 L149.90,289.07 L152.33,288.77 L154.75,288.46 L157.18,288.16 L159.60,287.85 L162.03,287.53 L164.45,287.22 L166.88,286.90 L169.31,286.57 L171.73,286.24 L174.16,285.91 L176.58,285.58 L179.01,285.24 L181.43,284.90 L183.86,284.55 L186.28,284.21 L188.71,283.85 L191.13,283.50 L193.56,283.14 L195.98,282.78 L198.41,282.42 L200.83,282.06 L203.26,281.69 L205.68,281.31 L208.11,280.93 L210.53,280.55 L212.96,280.16 L215.38,279.76 L217.81,279.35 L220.23,278.94 L222.66,278.52 L225.08,278.09 L227.51,277.65 L229.93,277.19 L232.36,276.73 L234.78,276.26 L237.21,275.77 L239.63,275.27 L242.06,274.77 L244.48,274.25 L246.91,273.72 L249.33,273.19 L251.76,272.64 L254.18,272.09 L256.61,271.53 L259.03,270.95 L261.46,270.37 L263.88,269.79 L266.31,269.19 L268.74,268.59 L271.16,267.99 L273.59,267.37 L276.01,266.75 L278.44,266.13 L280.86,265.50 L283.29,264.86 L285.71,264.22 L288.14,263.58 L290.56,262.93 L292.99,262.28 L295.41,261.63 L297.84,260.97 L300.26,260.31 L302.69,259.63 L305.11,258.94 L307.54,258.24 L309.96,257.52 L312.39,256.78 L314.81,256.04 L317.24,255.29 L319.66,254.53 L322.09,253.77 L324.51,253.00 L326.94,252.23 L329.36,251.46 L331.79,250.70 L334.21,249.94 L336.64,249.18 L339.06,248.43 L341.49,247.69 L343.91,246.95 L346.34,246.21 L348.76,245.47 L351.19,244.73 L353.61,243.99 L356.04,243.25 L358.46,242.51 L360.89,241.77 L363.32,241.03 L365.74,240.30 L368.17,239.56 L370.59,238.83 L373.02,238.10 L375.44,237.37 L377.87,236.64 L380.29,235.91 L382.72,235.19 L385.14,234.45 L387.57,233.72 L389.99,232.98 L392.42,232.24 L394.84,231.49 L397.27,230.75 L399.69,230.00 L402.12,229.26 L404.54,228.51 L406.97,227.77 L409.39,227.03 L411.82,226.29 L414.24,225.55 L416.67,224.82 L419.09,224.09 L421.52,223.37 L423.94,222.66 L426.37,221.94 L428.79,221.24 L431.22,220.55 L433.64,219.86 L436.07,219.18 L438.49,218.51 L440.92,217.85 L443.34,217.18 L445.77,216.51 L448.19,215.82 L450.62,215.13 L453.04,214.44 L455.47,213.75 L457.89,213.06 L460.32,212.36 L462.75,211.68 L465.17,211.00 L467.60,210.32 L470.02,209.66 L472.45,209.01 L474.87,208.37 L477.30,207.75 L479.72,207.14 L482.15,206.55 L484.57,205.99 L487.00,205.44 L489.42,204.93 L491.85,204.43 L494.27,203.97 L496.70,203.54 L499.12,203.14 L501.55,202.76 L503.97,202.39 L506.40,202.03 L508.82,201.66 L511.25,201.30 L513.67,200.95 L516.10,200.60 L518.52,200.26 L520.95,199.93 L523.37,199.60 L525.80,199.28 L528.22,198.98 L530.65,198.68 L533.07,198.40 L535.50,198.13 L537.92,197.87 L540.35,197.62 L542.77,197.39 L545.20,197.18 L547.62,196.98 L550.05,196.80 L552.47,196.64 L554.90,196.50 L554.90,197.10 L552.47,197.24 L550.05,197.40 L547.62,197.58 L545.20,197.78 L542.77,197.99 L540.35,198.22 L537.92,198.47 L535.50,198.73 L533.07,199.00 L530.65,199.28 L528.22,199.58 L525.80,199.88 L523.37,200.20 L520.95,200.53 L518.52,200.86 L516.10,201.20 L513.67,201.55 L511.25,201.90 L508.82,202.26 L506.40,202.63 L503.97,202.99 L501.55,203.36 L499.12,203.74 L496.70,204.14 L494.27,204.57 L491.85,205.03 L489.42,205.53 L487.00,206.04 L484.57,206.59 L482.15,207.15 L479.72,207.74 L477.30,208.35 L474.87,208.97 L472.45,209.61 L470.02,210.26 L467.60,210.92 L465.17,211.60 L462.75,212.28 L460.32,212.96 L457.89,213.66 L455.47,214.35 L453.04,215.04 L450.62,215.73 L448.19,216.42 L445.77,217.11 L443.34,217.78 L440.92,218.45 L438.49,219.11 L436.07,219.78 L433.64,220.46 L431.22,221.15 L428.79,221.84 L426.37,222.54 L423.94,223.26 L421.52,223.97 L419.09,224.69 L416.67,225.42 L414.24,226.15 L411.82,226.89 L409.39,227.63 L406.97,228.37 L404.54,229.11 L402.12,229.86 L399.69,230.60 L397.27,231.35 L394.84,232.09 L392.42,232.84 L389.99,233.58 L387.57,234.32 L385.14,235.05 L382.72,235.79 L380.29,236.51 L377.87,237.24 L375.44,237.97 L373.02,238.70 L370.59,239.43 L368.17,240.16 L365.74,240.90 L363.32,241.63 L360.89,242.37 L358.46,243.11 L356.04,243.85 L353.61,244.59 L351.19,245.33 L348.76,246.07 L346.34,246.81 L343.91,247.55 L341.49,248.29 L339.06,249.03 L336.64,249.78 L334.21,250.54 L331.79,251.30 L329.36,252.06 L326.94,252.83 L324.51,253.60 L322.09,254.37 L319.66,255.13 L317.24,255.89 L314.81,256.64 L312.39,257.38 L309.96,258.12 L307.54,258.84 L305.11,259.54 L302.69,260.23 L300.26,260.91 L297.84,261.57 L295.41,262.23 L292.99,262.88 L290.56,263.53 L288.14,264.18 L285.71,264.82 L283.29,265.46 L280.86,266.10 L278.44,266.73 L276.01,267.35 L273.59,267.97 L271.16,268.59 L268.74,269.19 L266.31,269.79 L263.88,270.39 L261.46,270.97 L259.03,271.55 L256.61,272.13 L254.18,272.69 L251.76,273.24 L249.33,273.79 L246.91,274.32 L244.48,274.85 L242.06,275.37 L239.63,275.87 L237.21,276.37 L234.78,276.86 L232.36,277.33 L229.93,277.79 L227.51,278.25 L225.08,278.69 L222.66,279.12 L220.23,279.54 L217.81,279.95 L215.38,280.36 L212.96,280.76 L210.53,281.15 L208.11,281.53 L205.68,281.91 L203.26,282.29 L200.83,282.66 L198.41,283.02 L195.98,283.38 L193.56,283.74 L191.13,284.10 L188.71,284.45 L186.28,284.81 L183.86,285.15 L181.43,285.50 L179.01,285.84 L176.58,286.18 L174.16,286.51 L171.73,286.84 L169.31,287.17 L166.88,287.50 L164.45,287.82 L162.03,288.13 L159.60,288.45 L157.18,288.76 L154.75,289.06 L152.33,289.37 L149.90,289.67 L147.48,289.96 L145.05,290.25 L142.63,290.54 L140.20,290.82 L137.78,291.11 L135.35,291.38 L132.93,291.66 L130.50,291.94 L128.08,292.21 L125.65,292.48 L123.23,292.75 L120.80,293.02 L118.38,293.28 L115.95,293.54 L113.53,293.80 L111.10,294.06 L108.68,294.31 L106.25,294.57 L103.83,294.82 L101.40,295.06 L98.98,295.31 L96.55,295.55 L94.13,295.79 L91.70,296.02 L89.28,296.26 L86.85,296.49 L84.43,296.71 L82.00,296.94 L79.58,297.16 L77.15,297.37 L74.73,297.59 L72.30,297.80Z" fill="#00f" stroke="none"/>
<path d="M72.30,302.60 L74.73,302.37 L77.15,302.13 L79.58,301.90 L82.00,301.66 L84.43,301.41 L86.85,301.17 L89.28,300.92 L91.70,300.67 L94.13,300.41 L96.55,300.15 L98.98,299.89 L101.40,299.63 L103.83,299.37 L106.25,299.10 L108.68,298.83 L111.10,298.56 L113.53,298.28 L115.95,298.01 L118.38,297.73 L120.80,297.45 L123.23,297.16 L125.65,296.88 L128.08,296.59 L130.50,296.30 L132.93,296.01 L135.35,295.72 L137.78,295.42 L140.20,295.13 L142.63,294.83 L145.05,294.53 L147.48,294.22 L149.90,293.91 L152.33,293.60 L154.75,293.28 L157.18,292.97 L159.60,292.64 L162.03,292.32 L164.45,291.99 L166.88,291.66 L169.31,291.32 L171.73,290.98 L174.16,290.64 L176.58,290.30 L179.01,289.95 L181.43,289.60 L183.86,289.24 L186.28,288.89 L188.71,288.53 L191.13,288.17 L193.56,287.80 L195.98,287.44 L198.41,287.07 L200.83,286.70 L203.26,286.32 L205.68,285.94 L208.11,285.56 L210.53,285.17 L212.96,284.77 L215.38,284.37 L217.81,283.96 L220.23,283.55 L222.66,283.12 L225.08,282.69 L227.51,282.25 L229.93,281.79 L232.36,281.33 L234.78,280.86 L237.21,280.37 L239.63,279.88 L242.06,279.37 L244.48,278.85 L246.91,278.33 L249.33,277.79 L251.76,277.25 L254.18,276.69 L256.61,276.13 L259.03,275.56 L261.46,274.98 L263.88,274.40 L266.31,273.81 L268.74,273.21 L271.16,272.60 L273.59,271.99 L276.01,271.37 L278.44,270.75 L280.86,270.12 L283.29,269.49 L285.71,268.85 L288.14,268.21 L290.56,267.56 L292.99,266.91 L295.41,266.26 L297.84,265.61 L300.26,264.95 L302.69,264.28 L305.11,263.59 L307.54,262.89 L309.96,262.17 L312.39,261.44 L314.81,260.70 L317.24,259.95 L319.66,259.20 L322.09,258.44 L324.51,257.68 L326.94,256.91 L329.36,256.15 L331.79,255.39 L334.21,254.63 L336.64,253.88 L339.06,253.14 L341.49,252.40 L343.91,251.67 L346.34,250.93 L348.76,250.20 L351.19,249.46 L353.61,248.73 L356.04,247.99 L358.46,247.26 L360.89,246.52 L363.32,245.79 L365.74,245.06 L368.17,244.33 L370.59,243.60 L373.02,242.88 L375.44,242.15 L377.87,241.43 L380.29,240.71 L382.72,240.00 L385.14,239.27 L387.57,238.55 L389.99,237.83 L392.42,237.11 L394.84,236.39 L397.27,235.67 L399.69,234.95 L402.12,234.24 L404.54,233.52 L406.97,232.81 L409.39,232.11 L411.82,231.40 L414.24,230.71 L416.67,230.01 L419.09,229.33 L421.52,228.64 L423.94,227.97 L426.37,227.30 L428.79,226.64 L431.22,225.99 L433.64,225.34 L436.07,224.71 L438.49,224.08 L440.92,223.47 L443.34,222.84 L445.77,222.22 L448.19,221.58 L450.62,220.94 L453.04,220.30 L455.47,219.67 L457.89,219.03 L460.32,218.40 L462.75,217.77 L465.17,217.15 L467.60,216.54 L470.02,215.94 L472.45,215.36 L474.87,214.79 L477.30,214.23 L479.72,213.70 L482.15,213.19 L484.57,212.69 L487.00,212.22 L489.42,211.78 L491.85,211.37 L494.27,210.98 L496.70,210.63 L499.12,210.31 L501.55,210.02 L503.97,209.73 L506.40,209.45 L508.82,209.17 L511.25,208.91 L513.67,208.65 L516.10,208.39 L518.52,208.15 L520.95,207.92 L523.37,207.70 L525.80,207.48 L528.22,207.28 L530.65,207.10 L533.07,206.92 L535.50,206.77 L537.92,206.62 L540.35,206.49 L542.77,206.38 L545.20,206.29 L547.62,206.21 L550.05,206.16 L552.47,206.12 L554.90,206.10 L554.90,206.70 L552.47,206.72 L550.05,206.76 L547.62,206.81 L545.20,206.89 L542.77,206.98 L540.35,207.09 L537.92,207.22 L535.50,207.37 L533.07,207.52 L530.65,207.70 L528.22,207.88 L525.80,208.08 L523.37,208.30 L520.95,208.52 L518.52,208.75 L516.10,208.99 L513.67,209.25 L511.25,209.51 L508.82,209.77 L506.40,210.05 L503.97,210.33 L501.55,210.62 L499.12,210.91 L496.70,211.23 L494.27,211.58 L491.85,211.97 L489.42,212.38 L487.00,212.82 L484.57,213.29 L482.15,213.79 L479.72,214.30 L477.30,214.83 L474.87,215.39 L472.45,215.96 L470.02,216.54 L467.60,217.14 L465.17,217.75 L462.75,218.37 L460.32,219.00 L457.89,219.63 L455.47,220.27 L453.04,220.90 L450.62,221.54 L448.19,222.18 L445.77,222.82 L443.34,223.44 L440.92,224.07 L438.49,224.68 L436.07,225.31 L433.64,225.94 L431.22,226.59 L428.79,227.24 L426.37,227.90 L423.94,228.57 L421.52,229.24 L419.09,229.93 L416.67,230.61 L414.24,231.31 L411.82,232.00 L409.39,232.71 L406.97,233.41 L404.54,234.12 L402.12,234.84 L399.69,235.55 L397.27,236.27 L394.84,236.99 L392.42,237.71 L389.99,238.43 L387.57,239.15 L385.14,239.87 L382.72,240.60 L380.29,241.31 L377.87,242.03 L375.44,242.75 L373.02,243.48 L370.59,244.20 L368.17,244.93 L365.74,245.66 L363.32,246.39 L360.89,247.12 L358.46,247.86 L356.04,248.59 L353.61,249.33 L351.19,250.06 L348.76,250.80 L346.34,251.53 L343.91,252.27 L341.49,253.00 L339.06,253.74 L336.64,254.48 L334.21,255.23 L331.79,255.99 L329.36,256.75 L326.94,257.51 L324.51,258.28 L322.09,259.04 L319.66,259.80 L317.24,260.55 L314.81,261.30 L312.39,262.04 L309.96,262.77 L307.54,263.49 L305.11,264.19 L302.69,264.88 L300.26,265.55 L297.84,266.21 L295.41,266.86 L292.99,267.51 L290.56,268.16 L288.14,268.81 L285.71,269.45 L283.29,270.09 L280.86,270.72 L278.44,271.35 L276.01,271.97 L273.59,272.59 L271.16,273.20 L268.74,273.81 L266.31,274.41 L263.88,275.00 L261.46,275.58 L259.03,276.16 L256.61,276.73 L254.18,277.29 L251.76,277.85 L249.33,278.39 L246.91,278.93 L244.48,279.45 L242.06,279.97 L239.63,280.48 L237.21,280.97 L234.78,281.46 L232.36,281.93 L229.93,282.39 L227.51,282.85 L225.08,283.29 L222.66,283.72 L220.23,284.15 L217.81,284.56 L215.38,284.97 L212.96,285.37 L210.53,285.77 L208.11,286.16 L205.68,286.54 L203.26,286.92 L200.83,287.30 L198.41,287.67 L195.98,288.04 L193.56,288.40 L191.13,288.77 L188.71,289.13 L186.28,289.49 L183.86,289.84 L181.43,290.20 L179.01,290.55 L176.58,290.90 L174.16,291.24 L171.73,291.58 L169.31,291.92 L166.88,292.26 L164.45,292.59 L162.03,292.92 L159.60,293.24 L157.18,293.57 L154.75,293.88 L152.33,294.20 L149.90,294.51 L147.48,294.82 L145.05,295.13 L142.63,295.43 L140.20,295.73 L137.78,296.02 L135.35,296.32 L132.93,296.61 L130.50,296.90 L128.08,297.19 L125.65,297.48 L123.23,297.76 L120.80,298.05 L118.38,298.33 L115.95,298.61 L113.53,298.88 L111.10,299.16 L108.68,299.43 L106.25,299.70 L103.83,299.97 L101.40,300.23 L98.98,300.49 L96.55,300.75 L94.13,301.01 L91.70,301.27 L89.28,301.52 L86.85,301.77 L84.43,302.01 L82.00,302.26 L79.58,302.50 L77.15,302.73 L74.73,302.97 L72.30,303.20Z" fill="#00f" stroke="none"/>
<path d="M72.30,300.20 L74.73,299.98 L77.15,299.75 L79.58,299.53 L82.00,299.30 L84.43,299.06 L86.85,298.83 L89.28,298.59 L91.70,298.34 L94.13,298.10 L96.55,297.85 L98.98,297.60 L101.40,297.35 L103.83,297.09 L106.25,296.83 L108.68,296.57 L111.10,296.31 L113.53,296.04 L115.95,295.77 L118.38,295.50 L120.80,295.23 L123.23,294.96 L125.65,294.68 L128.08,294.40 L130.50,294.12 L132.93,293.84 L135.35,293.55 L137.78,293.26 L140.20,292.98 L142.63,292.68 L145.05,292.39 L147.48,292.09 L149.90,291.79 L152.33,291.48 L154.75,291.17 L157.18,290.86 L159.60,290.55 L162.03,290.23 L164.45,289.90 L166.88,289.58 L169.31,289.25 L171.73,288.91 L174.16,288.58 L176.58,288.24 L179.01,287.89 L181.43,287.55 L183.86,287.20 L186.28,286.85 L188.71,286.49 L191.13,286.13 L193.56,285.77 L195.98,285.41 L198.41,285.04 L200.83,284.68 L203.26,284.30 L205.68,283.93 L208.11,283.55 L210.53,283.16 L212.96,282.77 L215.38,282.37 L217.81,281.96 L220.23,281.54 L222.66,281.12 L225.08,280.69 L227.51,280.25 L229.93,279.79 L232.36,279.33 L234.78,278.86 L237.21,278.37 L239.63,277.87 L242.06,277.37 L244.48,276.85 L246.91,276.33 L249.33,275.79 L251.76,275.24 L254.18,274.69 L256.61,274.13 L259.03,273.56 L261.46,272.98 L263.88,272.39 L266.31,271.80 L268.74,271.20 L271.16,270.59 L273.59,269.98 L276.01,269.36 L278.44,268.74 L280.86,268.11 L283.29,267.48 L285.71,266.84 L288.14,266.19 L290.56,265.55 L292.99,264.90 L295.41,264.24 L297.84,263.59 L300.26,262.93 L302.69,262.26 L305.11,261.57 L307.54,260.86 L309.96,260.14 L312.39,259.41 L314.81,258.67 L317.24,257.92 L319.66,257.16 L322.09,256.40 L324.51,255.64 L326.94,254.87 L329.36,254.11 L331.79,253.34 L334.21,252.58 L336.64,251.83 L339.06,251.09 L341.49,250.35 L343.91,249.61 L346.34,248.87 L348.76,248.13 L351.19,247.40 L353.61,246.66 L356.04,245.92 L358.46,245.18 L360.89,244.45 L363.32,243.71 L365.74,242.98 L368.17,242.25 L370.59,241.52 L373.02,240.79 L375.44,240.06 L377.87,239.34 L380.29,238.61 L382.72,237.89 L385.14,237.16 L387.57,236.44 L389.99,235.71 L392.42,234.97 L394.84,234.24 L397.27,233.51 L399.69,232.78 L402.12,232.05 L404.54,231.32 L406.97,230.59 L409.39,229.87 L411.82,229.15 L414.24,228.43 L416.67,227.72 L419.09,227.01 L421.52,226.31 L423.94,225.61 L426.37,224.92 L428.79,224.24 L431.22,223.57 L433.64,222.90 L436.07,222.24 L438.49,221.60 L440.92,220.96 L443.34,220.31 L445.77,219.66 L448.19,219.00 L450.62,218.34 L453.04,217.67 L455.47,217.01 L457.89,216.34 L460.32,215.68 L462.75,215.02 L465.17,214.37 L467.60,213.73 L470.02,213.10 L472.45,212.48 L474.87,211.88 L477.30,211.29 L479.72,210.72 L482.15,210.17 L484.57,209.64 L487.00,209.13 L489.42,208.65 L491.85,208.20 L494.27,207.78 L496.70,207.38 L499.12,207.02 L501.55,206.69 L503.97,206.36 L506.40,206.04 L508.82,205.72 L511.25,205.41 L513.67,205.10 L516.10,204.80 L518.52,204.51 L520.95,204.22 L523.37,203.95 L525.80,203.68 L528.22,203.43 L530.65,203.19 L533.07,202.96 L535.50,202.75 L537.92,202.54 L540.35,202.36 L542.77,202.19 L545.20,202.03 L547.62,201.90 L550.05,201.78 L552.47,201.68 L554.90,201.60" fill="none" stroke="#00f" stroke-width="1.4"/>
<path d="M81.75,299.00V308.50" stroke="#00f" stroke-width="1.2" fill="none"/>
<path d="M78.85,306.10 L84.65,306.10 L81.75,300.90Z" fill="#00f"/>
<path d="M139.75,294.00V303.00" stroke="#00f" stroke-width="1.2" fill="none"/>
<path d="M136.85,300.90 L142.65,300.90 L139.75,295.70Z" fill="#00f"/>
<path d="M169.00,277.00V287.50" stroke="#00f" stroke-width="1.2" fill="none"/>
<path d="M166.10,284.10 L171.90,284.10 L169.00,278.90Z" fill="#00f"/>
<path d="M203.00,283.50V292.50" stroke="#00f" stroke-width="1.2" fill="none"/>
<path d="M200.10,290.60 L205.90,290.60 L203.00,285.40Z" fill="#00f"/>
<path d="M222.50,278.75V288.00" stroke="#00f" stroke-width="1.2" fill="none"/>
<path d="M219.60,285.10 L225.40,285.10 L222.50,279.90Z" fill="#00f"/>
<path d="M246.75,271.25V282.50" stroke="#00f" stroke-width="1.2" fill="none"/>
<path d="M243.85,278.85 L249.65,278.85 L246.75,273.65Z" fill="#00f"/>
<path d="M260.75,269.50V280.50" stroke="#00f" stroke-width="1.2" fill="none"/>
<path d="M257.85,276.85 L263.65,276.85 L260.75,271.65Z" fill="#00f"/>
<path d="M280.00,266.25V277.00" stroke="#00f" stroke-width="1.2" fill="none"/>
<path d="M277.10,273.35 L282.90,273.35 L280.00,268.15Z" fill="#00f"/>
<path d="M291.50,258.00V272.00" stroke="#00f" stroke-width="1.2" fill="none"/>
<path d="M288.60,268.10 L294.40,268.10 L291.50,262.90Z" fill="#00f"/>
<path d="M306.75,259.50V270.50" stroke="#00f" stroke-width="1.2" fill="none"/>
<path d="M303.85,267.10 L309.65,267.10 L306.75,261.90Z" fill="#00f"/>
<path d="M316.00,252.00V268.75" stroke="#00f" stroke-width="1.2" fill="none"/>
<path d="M313.10,262.10 L318.90,262.10 L316.00,256.90Z" fill="#00f"/>
<path d="M329.75,246.25V260.50" stroke="#00f" stroke-width="1.2" fill="none"/>
<path d="M326.85,256.35 L332.65,256.35 L329.75,251.15Z" fill="#00f"/>
<path d="M337.75,248.00V262.50" stroke="#00f" stroke-width="1.2" fill="none"/>
<path d="M334.85,256.35 L340.65,256.35 L337.75,251.15Z" fill="#00f"/>
<path d="M348.75,245.50V262.00" stroke="#00f" stroke-width="1.2" fill="none"/>
<path d="M345.85,254.60 L351.65,254.60 L348.75,249.40Z" fill="#00f"/>
<path d="M363.50,230.50V250.00" stroke="#00f" stroke-width="1.2" fill="none"/>
<path d="M360.60,241.35 L366.40,241.35 L363.50,236.15Z" fill="#00f"/>
<path d="M366.50,230.50V250.00" stroke="#00f" stroke-width="1.2" fill="none"/>
<path d="M363.60,241.35 L369.40,241.35 L366.50,236.15Z" fill="#00f"/>
<path d="M388.30,227.00V242.00" stroke="#00f" stroke-width="1.2" fill="none"/>
<path d="M385.40,237.60 L391.20,237.60 L388.30,232.40Z" fill="#00f"/>
<path d="M393.60,230.20V247.70" stroke="#00f" stroke-width="1.2" fill="none"/>
<path d="M390.70,240.40 L396.50,240.40 L393.60,235.20Z" fill="#00f"/>
<path d="M413.70,219.70V238.70" stroke="#00f" stroke-width="1.2" fill="none"/>
<path d="M410.80,231.30 L416.60,231.30 L413.70,226.10Z" fill="#00f"/>
<path d="M423.10,223.60V238.70" stroke="#00f" stroke-width="1.2" fill="none"/>
<path d="M420.20,232.80 L426.00,232.80 L423.10,227.60Z" fill="#00f"/>
<path d="M439.60,223.60V239.30" stroke="#00f" stroke-width="1.2" fill="none"/>
<path d="M436.70,234.30 L442.50,234.30 L439.60,229.10Z" fill="#00f"/>
<path d="M456.50,199.20V215.80" stroke="#00f" stroke-width="1.2" fill="none"/>
<path d="M453.60,209.30 L459.40,209.30 L456.50,204.10Z" fill="#00f"/>
<path d="M469.80,204.60V218.20" stroke="#00f" stroke-width="1.2" fill="none"/>
<path d="M466.90,213.30 L472.70,213.30 L469.80,208.10Z" fill="#00f"/>
<path d="M507.10,194.70V217.60" stroke="#00f" stroke-width="1.2" fill="none"/>
<path d="M504.20,209.30 L510.00,209.30 L507.10,204.10Z" fill="#00f"/>
<path d="M528.80,197.70V220.60" stroke="#00f" stroke-width="1.2" fill="none"/>
<path d="M525.90,211.20 L531.70,211.20 L528.80,206.00Z" fill="#00f"/>
<path d="M72.30,42.50 L74.73,42.79 L77.15,43.07 L79.58,43.36 L82.00,43.64 L84.43,43.92 L86.85,44.20 L89.28,44.47 L91.70,44.75 L94.13,45.02 L96.55,45.29 L98.98,45.55 L101.40,45.82 L103.83,46.08 L106.25,46.34 L108.68,46.59 L111.10,46.85 L113.53,47.10 L115.95,47.35 L118.38,47.61 L120.80,47.86 L123.23,48.12 L125.65,48.37 L128.08,48.62 L130.50,48.86 L132.93,49.11 L135.35,49.35 L137.78,49.58 L140.20,49.81 L142.63,50.04 L145.05,50.26 L147.48,50.47 L149.90,50.68 L152.33,50.88 L154.75,51.07 L157.18,51.27 L159.60,51.47 L162.03,51.66 L164.45,51.85 L166.88,52.04 L169.31,52.23 L171.73,52.43 L174.16,52.62 L176.58,52.82 L179.01,53.01 L181.43,53.21 L183.86,53.42 L186.28,53.62 L188.71,53.83 L191.13,54.05 L193.56,54.27 L195.98,54.50 L198.41,54.73 L200.83,54.96 L203.26,55.21 L205.68,55.46 L208.11,55.71 L210.53,55.97 L212.96,56.24 L215.38,56.51 L217.81,56.79 L220.23,57.08 L222.66,57.37 L225.08,57.66 L227.51,57.96 L229.93,58.27 L232.36,58.58 L234.78,58.90 L237.21,59.22 L239.63,59.55 L242.06,59.88 L244.48,60.23 L246.91,60.58 L249.33,60.94 L251.76,61.31 L254.18,61.68 L256.61,62.06 L259.03,62.45 L261.46,62.83 L263.88,63.23 L266.31,63.62 L268.74,64.02 L271.16,64.42 L273.59,64.82 L276.01,65.22 L278.44,65.62 L280.86,66.02 L283.29,66.42 L285.71,66.82 L288.14,67.21 L290.56,67.60 L292.99,67.99 L295.41,68.38 L297.84,68.76 L300.26,69.15 L302.69,69.53 L305.11,69.91 L307.54,70.29 L309.96,70.67 L312.39,71.04 L314.81,71.42 L317.24,71.80 L319.66,72.19 L322.09,72.58 L324.51,72.97 L326.94,73.37 L329.36,73.78 L331.79,74.20 L334.21,74.63 L336.64,75.07 L339.06,75.52 L341.49,75.99 L343.91,76.46 L346.34,76.95 L348.76,77.44 L351.19,77.94 L353.61,78.45 L356.04,78.96 L358.46,79.49 L360.89,80.02 L363.32,80.55 L365.74,81.09 L368.17,81.64 L370.59,82.19 L373.02,82.74 L375.44,83.30 L377.87,83.86 L380.29,84.43 L382.72,84.99 L385.14,85.56 L387.57,86.13 L389.99,86.71 L392.42,87.28 L394.84,87.86 L397.27,88.43 L399.69,89.01 L402.12,89.58 L404.54,90.17 L406.97,90.75 L409.39,91.34 L411.82,91.93 L414.24,92.52 L416.67,93.12 L419.09,93.72 L421.52,94.33 L423.94,94.93 L426.37,95.54 L428.79,96.15 L431.22,96.76 L433.64,97.38 L436.07,98.00 L438.49,98.62 L440.92,99.23 L443.34,99.85 L445.77,100.47 L448.19,101.08 L450.62,101.70 L453.04,102.31 L455.47,102.92 L457.89,103.53 L460.32,104.13 L462.75,104.74 L465.17,105.35 L467.60,105.95 L470.02,106.55 L472.45,107.16 L474.87,107.76 L477.30,108.36 L479.72,108.96 L482.15,109.56 L484.57,110.17 L487.00,110.77 L489.42,111.37 L491.85,111.97 L494.27,112.57 L496.70,113.18 L499.12,113.78 L501.55,114.39 L503.97,114.99 L506.40,115.59 L508.82,116.19 L511.25,116.79 L513.67,117.38 L516.10,117.98 L518.52,118.58 L520.95,119.17 L523.37,119.76 L525.80,120.35 L528.22,120.94 L530.65,121.53 L533.07,122.12 L535.50,122.71 L537.92,123.30 L540.35,123.89 L542.77,124.47 L545.20,125.06 L547.62,125.64 L550.05,126.23 L552.47,126.81 L554.90,127.40 L554.90,143.40 L552.47,142.55 L550.05,141.71 L547.62,140.86 L545.20,140.02 L542.77,139.19 L540.35,138.35 L537.92,137.52 L535.50,136.69 L533.07,135.87 L530.65,135.05 L528.22,134.23 L525.80,133.42 L523.37,132.61 L520.95,131.80 L518.52,131.00 L516.10,130.20 L513.67,129.40 L511.25,128.61 L508.82,127.83 L506.40,127.04 L503.97,126.26 L501.55,125.49 L499.12,124.72 L496.70,123.95 L494.27,123.18 L491.85,122.41 L489.42,121.64 L487.00,120.88 L484.57,120.11 L482.15,119.34 L479.72,118.58 L477.30,117.82 L474.87,117.06 L472.45,116.31 L470.02,115.56 L467.60,114.81 L465.17,114.07 L462.75,113.34 L460.32,112.61 L457.89,111.89 L455.47,111.17 L453.04,110.47 L450.62,109.77 L448.19,109.07 L445.77,108.39 L443.34,107.71 L440.92,107.05 L438.49,106.39 L436.07,105.74 L433.64,105.09 L431.22,104.45 L428.79,103.81 L426.37,103.17 L423.94,102.54 L421.52,101.91 L419.09,101.29 L416.67,100.66 L414.24,100.05 L411.82,99.44 L409.39,98.83 L406.97,98.23 L404.54,97.63 L402.12,97.03 L399.69,96.44 L397.27,95.86 L394.84,95.27 L392.42,94.68 L389.99,94.09 L387.57,93.51 L385.14,92.93 L382.72,92.34 L380.29,91.76 L377.87,91.19 L375.44,90.61 L373.02,90.04 L370.59,89.47 L368.17,88.91 L365.74,88.34 L363.32,87.79 L360.89,87.23 L358.46,86.69 L356.04,86.14 L353.61,85.61 L351.19,85.07 L348.76,84.55 L346.34,84.03 L343.91,83.51 L341.49,83.01 L339.06,82.51 L336.64,82.01 L334.21,81.52 L331.79,81.03 L329.36,80.54 L326.94,80.05 L324.51,79.57 L322.09,79.09 L319.66,78.62 L317.24,78.14 L314.81,77.68 L312.39,77.21 L309.96,76.75 L307.54,76.30 L305.11,75.84 L302.69,75.40 L300.26,74.95 L297.84,74.52 L295.41,74.07 L292.99,73.63 L290.56,73.19 L288.14,72.74 L285.71,72.30 L283.29,71.84 L280.86,71.39 L278.44,70.94 L276.01,70.48 L273.59,70.03 L271.16,69.58 L268.74,69.13 L266.31,68.69 L263.88,68.25 L261.46,67.82 L259.03,67.39 L256.61,66.98 L254.18,66.57 L251.76,66.17 L249.33,65.78 L246.91,65.40 L244.48,65.04 L242.06,64.69 L239.63,64.35 L237.21,64.02 L234.78,63.70 L232.36,63.38 L229.93,63.07 L227.51,62.77 L225.08,62.47 L222.66,62.17 L220.23,61.89 L217.81,61.60 L215.38,61.33 L212.96,61.06 L210.53,60.79 L208.11,60.54 L205.68,60.28 L203.26,60.04 L200.83,59.80 L198.41,59.57 L195.98,59.34 L193.56,59.12 L191.13,58.90 L188.71,58.69 L186.28,58.49 L183.86,58.29 L181.43,58.09 L179.01,57.90 L176.58,57.71 L174.16,57.52 L171.73,57.34 L169.31,57.15 L166.88,56.97 L164.45,56.79 L162.03,56.60 L159.60,56.42 L157.18,56.23 L154.75,56.05 L152.33,55.86 L149.90,55.67 L147.48,55.48 L145.05,55.30 L142.63,55.12 L140.20,54.95 L137.78,54.79 L135.35,54.63 L132.93,54.47 L130.50,54.32 L128.08,54.18 L125.65,54.03 L123.23,53.89 L120.80,53.75 L118.38,53.61 L115.95,53.47 L113.53,53.33 L111.10,53.19 L108.68,53.05 L106.25,52.92 L103.83,52.78 L101.40,52.65 L98.98,52.53 L96.55,52.40 L94.13,52.28 L91.70,52.16 L89.28,52.05 L86.85,51.93 L84.43,51.82 L82.00,51.71 L79.58,51.61 L77.15,51.50 L74.73,51.40 L72.30,51.30Z" fill="url(#hk)" stroke="none"/>
<path d="M72.30,41.77 L74.73,42.06 L77.15,42.35 L79.58,42.63 L82.00,42.91 L84.43,43.19 L86.85,43.47 L89.28,43.75 L91.70,44.02 L94.13,44.29 L96.55,44.56 L98.98,44.83 L101.40,45.09 L103.83,45.35 L106.25,45.61 L108.68,45.87 L111.10,46.12 L113.53,46.37 L115.95,46.63 L118.38,46.88 L120.80,47.14 L123.23,47.39 L125.65,47.64 L128.08,47.89 L130.50,48.14 L132.93,48.38 L135.35,48.62 L137.78,48.86 L140.20,49.09 L142.63,49.31 L145.05,49.53 L147.48,49.75 L149.90,49.95 L152.33,50.15 L154.75,50.35 L157.18,50.55 L159.60,50.74 L162.03,50.93 L164.45,51.13 L166.88,51.32 L169.31,51.51 L171.73,51.70 L174.16,51.90 L176.58,52.09 L179.01,52.29 L181.43,52.49 L183.86,52.69 L186.28,52.90 L188.71,53.11 L191.13,53.32 L193.56,53.54 L195.98,53.77 L198.41,54.00 L200.83,54.24 L203.26,54.48 L205.68,54.73 L208.11,54.99 L210.53,55.25 L212.96,55.52 L215.38,55.79 L217.81,56.07 L220.23,56.35 L222.66,56.64 L225.08,56.94 L227.51,57.24 L229.93,57.54 L232.36,57.86 L234.78,58.17 L237.21,58.50 L239.63,58.82 L242.06,59.16 L244.48,59.50 L246.91,59.86 L249.33,60.22 L251.76,60.58 L254.18,60.96 L256.61,61.34 L259.03,61.72 L261.46,62.11 L263.88,62.50 L266.31,62.90 L268.74,63.30 L271.16,63.70 L273.59,64.10 L276.01,64.50 L278.44,64.90 L280.86,65.30 L283.29,65.70 L285.71,66.09 L288.14,66.49 L290.56,66.88 L292.99,67.27 L295.41,67.65 L297.84,68.04 L300.26,68.42 L302.69,68.81 L305.11,69.19 L307.54,69.57 L309.96,69.94 L312.39,70.32 L314.81,70.70 L317.24,71.08 L319.66,71.46 L322.09,71.85 L324.51,72.25 L326.94,72.65 L329.36,73.06 L331.79,73.47 L334.21,73.90 L336.64,74.34 L339.06,74.80 L341.49,75.26 L343.91,75.74 L346.34,76.22 L348.76,76.71 L351.19,77.22 L353.61,77.72 L356.04,78.24 L358.46,78.76 L360.89,79.29 L363.32,79.82 L365.74,80.36 L368.17,80.91 L370.59,81.46 L373.02,82.01 L375.44,82.57 L377.87,83.14 L380.29,83.70 L382.72,84.27 L385.14,84.84 L387.57,85.41 L389.99,85.98 L392.42,86.56 L394.84,87.13 L397.27,87.71 L399.69,88.28 L402.12,88.86 L404.54,89.44 L406.97,90.02 L409.39,90.61 L411.82,91.20 L414.24,91.80 L416.67,92.40 L419.09,93.00 L421.52,93.60 L423.94,94.21 L426.37,94.81 L428.79,95.43 L431.22,96.04 L433.64,96.66 L436.07,97.29 L438.49,97.91 L440.92,98.54 L443.34,99.16 L445.77,99.79 L448.19,100.41 L450.62,101.03 L453.04,101.65 L455.47,102.26 L457.89,102.88 L460.32,103.49 L462.75,104.11 L465.17,104.72 L467.60,105.33 L470.02,105.94 L472.45,106.55 L474.87,107.16 L477.30,107.76 L479.72,108.37 L482.15,108.98 L484.57,109.59 L487.00,110.20 L489.42,110.81 L491.85,111.42 L494.27,112.02 L496.70,112.63 L499.12,113.24 L501.55,113.86 L503.97,114.46 L506.40,115.07 L508.82,115.68 L511.25,116.28 L513.67,116.89 L516.10,117.49 L518.52,118.09 L520.95,118.69 L523.37,119.29 L525.80,119.89 L528.22,120.49 L530.65,121.08 L533.07,121.68 L535.50,122.27 L537.92,122.87 L540.35,123.46 L542.77,124.05 L545.20,124.63 L547.62,125.22 L550.05,125.80 L552.47,126.39 L554.90,126.98 L554.90,127.83 L552.47,127.24 L550.05,126.65 L547.62,126.07 L545.20,125.48 L542.77,124.90 L540.35,124.31 L537.92,123.73 L535.50,123.15 L533.07,122.57 L530.65,121.98 L528.22,121.40 L525.80,120.82 L523.37,120.23 L520.95,119.65 L518.52,119.06 L516.10,118.47 L513.67,117.88 L511.25,117.29 L508.82,116.70 L506.40,116.11 L503.97,115.51 L501.55,114.92 L499.12,114.32 L496.70,113.72 L494.27,113.12 L491.85,112.53 L489.42,111.93 L487.00,111.34 L484.57,110.74 L482.15,110.15 L479.72,109.55 L477.30,108.96 L474.87,108.36 L472.45,107.77 L470.02,107.17 L467.60,106.57 L465.17,105.98 L462.75,105.38 L460.32,104.78 L457.89,104.18 L455.47,103.57 L453.04,102.97 L450.62,102.37 L448.19,101.76 L445.77,101.15 L443.34,100.54 L440.92,99.93 L438.49,99.32 L436.07,98.70 L433.64,98.09 L431.22,97.49 L428.79,96.88 L426.37,96.26 L423.94,95.66 L421.52,95.05 L419.09,94.45 L416.67,93.85 L414.24,93.25 L411.82,92.65 L409.39,92.06 L406.97,91.47 L404.54,90.89 L402.12,90.31 L399.69,89.73 L397.27,89.16 L394.84,88.58 L392.42,88.01 L389.99,87.43 L387.57,86.86 L385.14,86.29 L382.72,85.72 L380.29,85.15 L377.87,84.59 L375.44,84.02 L373.02,83.46 L370.59,82.91 L368.17,82.36 L365.74,81.81 L363.32,81.27 L360.89,80.74 L358.46,80.21 L356.04,79.69 L353.61,79.17 L351.19,78.67 L348.76,78.16 L346.34,77.67 L343.91,77.19 L341.49,76.71 L339.06,76.25 L336.64,75.79 L334.21,75.35 L331.79,74.92 L329.36,74.51 L326.94,74.10 L324.51,73.70 L322.09,73.30 L319.66,72.91 L317.24,72.53 L314.81,72.15 L312.39,71.77 L309.96,71.39 L307.54,71.02 L305.11,70.64 L302.69,70.26 L300.26,69.87 L297.84,69.49 L295.41,69.10 L292.99,68.72 L290.56,68.33 L288.14,67.94 L285.71,67.54 L283.29,67.15 L280.86,66.75 L278.44,66.35 L276.01,65.95 L273.59,65.55 L271.16,65.15 L268.74,64.75 L266.31,64.35 L263.88,63.95 L261.46,63.56 L259.03,63.17 L256.61,62.79 L254.18,62.41 L251.76,62.03 L249.33,61.67 L246.91,61.31 L244.48,60.95 L242.06,60.61 L239.63,60.27 L237.21,59.95 L234.78,59.62 L232.36,59.31 L229.93,58.99 L227.51,58.69 L225.08,58.39 L222.66,58.09 L220.23,57.80 L217.81,57.52 L215.38,57.24 L212.96,56.97 L210.53,56.70 L208.11,56.44 L205.68,56.18 L203.26,55.93 L200.83,55.69 L198.41,55.45 L195.98,55.22 L193.56,54.99 L191.13,54.77 L188.71,54.56 L186.28,54.35 L183.86,54.14 L181.43,53.94 L179.01,53.74 L176.58,53.54 L174.16,53.35 L171.73,53.15 L169.31,52.96 L166.88,52.77 L164.45,52.58 L162.03,52.38 L159.60,52.19 L157.18,52.00 L154.75,51.80 L152.33,51.60 L149.90,51.40 L147.48,51.20 L145.05,50.98 L142.63,50.76 L140.20,50.54 L137.78,50.31 L135.35,50.07 L132.93,49.83 L130.50,49.59 L128.08,49.34 L125.65,49.09 L123.23,48.84 L120.80,48.59 L118.38,48.33 L115.95,48.08 L113.53,47.82 L111.10,47.57 L108.68,47.32 L106.25,47.06 L103.83,46.80 L101.40,46.54 L98.98,46.28 L96.55,46.01 L94.13,45.74 L91.70,45.47 L89.28,45.20 L86.85,44.92 L84.43,44.64 L82.00,44.36 L79.58,44.08 L77.15,43.80 L74.73,43.51 L72.30,43.23Z" fill="#000" stroke="none"/>
<path d="M72.30,50.57 L74.73,50.68 L77.15,50.78 L79.58,50.88 L82.00,50.99 L84.43,51.10 L86.85,51.21 L89.28,51.32 L91.70,51.44 L94.13,51.56 L96.55,51.68 L98.98,51.80 L101.40,51.93 L103.83,52.06 L106.25,52.19 L108.68,52.33 L111.10,52.47 L113.53,52.61 L115.95,52.75 L118.38,52.89 L120.80,53.02 L123.23,53.16 L125.65,53.31 L128.08,53.45 L130.50,53.60 L132.93,53.75 L135.35,53.90 L137.78,54.06 L140.20,54.23 L142.63,54.40 L145.05,54.57 L147.48,54.76 L149.90,54.95 L152.33,55.14 L154.75,55.32 L157.18,55.51 L159.60,55.69 L162.03,55.88 L164.45,56.06 L166.88,56.24 L169.31,56.43 L171.73,56.61 L174.16,56.80 L176.58,56.98 L179.01,57.18 L181.43,57.37 L183.86,57.56 L186.28,57.76 L188.71,57.97 L191.13,58.18 L193.56,58.39 L195.98,58.61 L198.41,58.84 L200.83,59.07 L203.26,59.31 L205.68,59.56 L208.11,59.81 L210.53,60.07 L212.96,60.33 L215.38,60.60 L217.81,60.88 L220.23,61.16 L222.66,61.45 L225.08,61.74 L227.51,62.04 L229.93,62.35 L232.36,62.66 L234.78,62.97 L237.21,63.30 L239.63,63.62 L242.06,63.96 L244.48,64.31 L246.91,64.68 L249.33,65.05 L251.76,65.44 L254.18,65.84 L256.61,66.25 L259.03,66.67 L261.46,67.09 L263.88,67.53 L266.31,67.96 L268.74,68.41 L271.16,68.86 L273.59,69.31 L276.01,69.76 L278.44,70.21 L280.86,70.67 L283.29,71.12 L285.71,71.57 L288.14,72.02 L290.56,72.46 L292.99,72.91 L295.41,73.35 L297.84,73.79 L300.26,74.23 L302.69,74.67 L305.11,75.12 L307.54,75.57 L309.96,76.03 L312.39,76.49 L314.81,76.95 L317.24,77.42 L319.66,77.89 L322.09,78.37 L324.51,78.85 L326.94,79.33 L329.36,79.81 L331.79,80.30 L334.21,80.79 L336.64,81.29 L339.06,81.78 L341.49,82.28 L343.91,82.79 L346.34,83.30 L348.76,83.82 L351.19,84.35 L353.61,84.88 L356.04,85.42 L358.46,85.96 L360.89,86.51 L363.32,87.06 L365.74,87.62 L368.17,88.18 L370.59,88.75 L373.02,89.31 L375.44,89.89 L377.87,90.46 L380.29,91.04 L382.72,91.62 L385.14,92.20 L387.57,92.78 L389.99,93.37 L392.42,93.96 L394.84,94.54 L397.27,95.13 L399.69,95.72 L402.12,96.31 L404.54,96.90 L406.97,97.50 L409.39,98.10 L411.82,98.71 L414.24,99.32 L416.67,99.94 L419.09,100.56 L421.52,101.18 L423.94,101.81 L426.37,102.45 L428.79,103.08 L431.22,103.73 L433.64,104.38 L436.07,105.03 L438.49,105.69 L440.92,106.35 L443.34,107.03 L445.77,107.71 L448.19,108.40 L450.62,109.10 L453.04,109.80 L455.47,110.52 L457.89,111.24 L460.32,111.97 L462.75,112.70 L465.17,113.45 L467.60,114.19 L470.02,114.94 L472.45,115.70 L474.87,116.46 L477.30,117.22 L479.72,117.99 L482.15,118.76 L484.57,119.53 L487.00,120.31 L489.42,121.08 L491.85,121.86 L494.27,122.63 L496.70,123.41 L499.12,124.19 L501.55,124.96 L503.97,125.74 L506.40,126.53 L508.82,127.32 L511.25,128.11 L513.67,128.91 L516.10,129.71 L518.52,130.51 L520.95,131.32 L523.37,132.14 L525.80,132.95 L528.22,133.77 L530.65,134.60 L533.07,135.42 L535.50,136.26 L537.92,137.09 L540.35,137.93 L542.77,138.76 L545.20,139.60 L547.62,140.44 L550.05,141.28 L552.47,142.13 L554.90,142.97 L554.90,143.83 L552.47,142.98 L550.05,142.13 L547.62,141.29 L545.20,140.45 L542.77,139.61 L540.35,138.78 L537.92,137.95 L535.50,137.13 L533.07,136.31 L530.65,135.50 L528.22,134.69 L525.80,133.88 L523.37,133.08 L520.95,132.28 L518.52,131.48 L516.10,130.69 L513.67,129.90 L511.25,129.12 L508.82,128.34 L506.40,127.56 L503.97,126.79 L501.55,126.02 L499.12,125.26 L496.70,124.50 L494.27,123.73 L491.85,122.97 L489.42,122.21 L487.00,121.45 L484.57,120.68 L482.15,119.93 L479.72,119.17 L477.30,118.42 L474.87,117.67 L472.45,116.92 L470.02,116.18 L467.60,115.44 L465.17,114.70 L462.75,113.98 L460.32,113.25 L457.89,112.54 L455.47,111.83 L453.04,111.13 L450.62,110.43 L448.19,109.75 L445.77,109.07 L443.34,108.40 L440.92,107.74 L438.49,107.09 L436.07,106.45 L433.64,105.81 L431.22,105.17 L428.79,104.53 L426.37,103.90 L423.94,103.26 L421.52,102.63 L419.09,102.01 L416.67,101.39 L414.24,100.77 L411.82,100.16 L409.39,99.55 L406.97,98.95 L404.54,98.35 L402.12,97.76 L399.69,97.17 L397.27,96.58 L394.84,95.99 L392.42,95.41 L389.99,94.82 L387.57,94.23 L385.14,93.65 L382.72,93.07 L380.29,92.49 L377.87,91.91 L375.44,91.34 L373.02,90.76 L370.59,90.20 L368.17,89.63 L365.74,89.07 L363.32,88.51 L360.89,87.96 L358.46,87.41 L356.04,86.87 L353.61,86.33 L351.19,85.80 L348.76,85.27 L346.34,84.75 L343.91,84.24 L341.49,83.73 L339.06,83.23 L336.64,82.74 L334.21,82.24 L331.79,81.75 L329.36,81.26 L326.94,80.78 L324.51,80.30 L322.09,79.82 L319.66,79.34 L317.24,78.87 L314.81,78.40 L312.39,77.94 L309.96,77.48 L307.54,77.02 L305.11,76.57 L302.69,76.12 L300.26,75.68 L297.84,75.24 L295.41,74.80 L292.99,74.36 L290.56,73.91 L288.14,73.47 L285.71,73.02 L283.29,72.57 L280.86,72.12 L278.44,71.66 L276.01,71.21 L273.59,70.76 L271.16,70.31 L268.74,69.86 L266.31,69.41 L263.88,68.98 L261.46,68.54 L259.03,68.12 L256.61,67.70 L254.18,67.29 L251.76,66.89 L249.33,66.50 L246.91,66.13 L244.48,65.76 L242.06,65.41 L239.63,65.07 L237.21,64.75 L234.78,64.42 L232.36,64.11 L229.93,63.80 L227.51,63.49 L225.08,63.19 L222.66,62.90 L220.23,62.61 L217.81,62.33 L215.38,62.05 L212.96,61.78 L210.53,61.52 L208.11,61.26 L205.68,61.01 L203.26,60.76 L200.83,60.52 L198.41,60.29 L195.98,60.06 L193.56,59.84 L191.13,59.63 L188.71,59.42 L186.28,59.21 L183.86,59.01 L181.43,58.82 L179.01,58.63 L176.58,58.43 L174.16,58.25 L171.73,58.06 L169.31,57.88 L166.88,57.69 L164.45,57.51 L162.03,57.33 L159.60,57.14 L157.18,56.96 L154.75,56.77 L152.33,56.59 L149.90,56.40 L147.48,56.21 L145.05,56.02 L142.63,55.85 L140.20,55.68 L137.78,55.51 L135.35,55.35 L132.93,55.20 L130.50,55.05 L128.08,54.90 L125.65,54.76 L123.23,54.61 L120.80,54.47 L118.38,54.34 L115.95,54.20 L113.53,54.06 L111.10,53.92 L108.68,53.78 L106.25,53.64 L103.83,53.51 L101.40,53.38 L98.98,53.25 L96.55,53.13 L94.13,53.01 L91.70,52.89 L89.28,52.77 L86.85,52.66 L84.43,52.55 L82.00,52.44 L79.58,52.33 L77.15,52.23 L74.73,52.13 L72.30,52.02Z" fill="#000" stroke="none"/>
<path d="M72.30,46.90 L74.73,47.09 L77.15,47.29 L79.58,47.48 L82.00,47.68 L84.43,47.87 L86.85,48.07 L89.28,48.26 L91.70,48.46 L94.13,48.65 L96.55,48.85 L98.98,49.04 L101.40,49.24 L103.83,49.43 L106.25,49.63 L108.68,49.82 L111.10,50.02 L113.53,50.22 L115.95,50.41 L118.38,50.61 L120.80,50.81 L123.23,51.00 L125.65,51.20 L128.08,51.40 L130.50,51.59 L132.93,51.79 L135.35,51.99 L137.78,52.19 L140.20,52.38 L142.63,52.58 L145.05,52.78 L147.48,52.98 L149.90,53.17 L152.33,53.37 L154.75,53.56 L157.18,53.75 L159.60,53.94 L162.03,54.13 L164.45,54.32 L166.88,54.51 L169.31,54.69 L171.73,54.88 L174.16,55.07 L176.58,55.26 L179.01,55.46 L181.43,55.65 L183.86,55.85 L186.28,56.06 L188.71,56.26 L191.13,56.48 L193.56,56.69 L195.98,56.92 L198.41,57.15 L200.83,57.38 L203.26,57.62 L205.68,57.87 L208.11,58.12 L210.53,58.38 L212.96,58.65 L215.38,58.92 L217.81,59.20 L220.23,59.48 L222.66,59.77 L225.08,60.06 L227.51,60.36 L229.93,60.67 L232.36,60.98 L234.78,61.30 L237.21,61.62 L239.63,61.95 L242.06,62.29 L244.48,62.63 L246.91,62.99 L249.33,63.36 L251.76,63.74 L254.18,64.12 L256.61,64.52 L259.03,64.92 L261.46,65.33 L263.88,65.74 L266.31,66.16 L268.74,66.58 L271.16,67.00 L273.59,67.43 L276.01,67.85 L278.44,68.28 L280.86,68.71 L283.29,69.13 L285.71,69.56 L288.14,69.98 L290.56,70.40 L292.99,70.81 L295.41,71.23 L297.84,71.64 L300.26,72.05 L302.69,72.46 L305.11,72.88 L307.54,73.29 L309.96,73.71 L312.39,74.13 L314.81,74.55 L317.24,74.97 L319.66,75.40 L322.09,75.83 L324.51,76.27 L326.94,76.71 L329.36,77.16 L331.79,77.61 L334.21,78.07 L336.64,78.54 L339.06,79.01 L341.49,79.50 L343.91,79.99 L346.34,80.49 L348.76,80.99 L351.19,81.51 L353.61,82.03 L356.04,82.55 L358.46,83.09 L360.89,83.62 L363.32,84.17 L365.74,84.72 L368.17,85.27 L370.59,85.83 L373.02,86.39 L375.44,86.95 L377.87,87.52 L380.29,88.09 L382.72,88.67 L385.14,89.24 L387.57,89.82 L389.99,90.40 L392.42,90.98 L394.84,91.56 L397.27,92.14 L399.69,92.73 L402.12,93.31 L404.54,93.90 L406.97,94.49 L409.39,95.08 L411.82,95.68 L414.24,96.29 L416.67,96.89 L419.09,97.50 L421.52,98.12 L423.94,98.73 L426.37,99.36 L428.79,99.98 L431.22,100.61 L433.64,101.24 L436.07,101.87 L438.49,102.50 L440.92,103.14 L443.34,103.78 L445.77,104.43 L448.19,105.08 L450.62,105.73 L453.04,106.39 L455.47,107.05 L457.89,107.71 L460.32,108.37 L462.75,109.04 L465.17,109.71 L467.60,110.38 L470.02,111.06 L472.45,111.73 L474.87,112.41 L477.30,113.09 L479.72,113.77 L482.15,114.45 L484.57,115.14 L487.00,115.82 L489.42,116.51 L491.85,117.19 L494.27,117.88 L496.70,118.56 L499.12,119.25 L501.55,119.94 L503.97,120.63 L506.40,121.32 L508.82,122.01 L511.25,122.70 L513.67,123.39 L516.10,124.09 L518.52,124.79 L520.95,125.48 L523.37,126.18 L525.80,126.88 L528.22,127.59 L530.65,128.29 L533.07,129.00 L535.50,129.70 L537.92,130.41 L540.35,131.12 L542.77,131.83 L545.20,132.54 L547.62,133.25 L550.05,133.97 L552.47,134.68 L554.90,135.40" fill="none" stroke="#000" stroke-width="1.6"/>
<path d="M81.90,50.50V58.50" stroke="#000" stroke-width="1.2" fill="none"/>
<path d="M79.00,57.10 L84.80,57.10 L81.90,51.90Z" fill="#000"/>
<path d="M140.00,41.00V53.00" stroke="#000" stroke-width="1.2" fill="none"/>
<path d="M137.10,49.60 L142.90,49.60 L140.00,44.40Z" fill="#000"/>
<path d="M169.00,56.00V67.00" stroke="#000" stroke-width="1.2" fill="none"/>
<path d="M166.10,64.10 L171.90,64.10 L169.00,58.90Z" fill="#000"/>
<path d="M203.30,46.60V60.00" stroke="#000" stroke-width="1.2" fill="none"/>
<path d="M200.40,56.20 L206.20,56.20 L203.30,51.00Z" fill="#000"/>
<path d="M222.30,45.00V60.00" stroke="#000" stroke-width="1.2" fill="none"/>
<path d="M219.40,55.20 L225.20,55.20 L222.30,50.00Z" fill="#000"/>
<path d="M246.70,47.90V63.00" stroke="#000" stroke-width="1.2" fill="none"/>
<path d="M243.80,58.40 L249.60,58.40 L246.70,53.20Z" fill="#000"/>
<path d="M260.70,57.80V75.00" stroke="#000" stroke-width="1.2" fill="none"/>
<path d="M257.80,69.00 L263.60,69.00 L260.70,63.80Z" fill="#000"/>
<path d="M279.70,60.00V77.00" stroke="#000" stroke-width="1.2" fill="none"/>
<path d="M276.80,71.50 L282.60,71.50 L279.70,66.30Z" fill="#000"/>
<path d="M291.30,71.40V94.60" stroke="#000" stroke-width="1.2" fill="none"/>
<path d="M288.40,83.60 L294.20,83.60 L291.30,78.40Z" fill="#000"/>
<path d="M307.00,60.60V79.70" stroke="#000" stroke-width="1.2" fill="none"/>
<path d="M304.10,72.80 L309.90,72.80 L307.00,67.60Z" fill="#000"/>
<path d="M316.20,57.30V84.00" stroke="#000" stroke-width="1.2" fill="none"/>
<path d="M313.30,73.20 L319.10,73.20 L316.20,68.00Z" fill="#000"/>
<path d="M329.40,63.00V86.00" stroke="#000" stroke-width="1.2" fill="none"/>
<path d="M326.50,77.00 L332.30,77.00 L329.40,71.80Z" fill="#000"/>
<path d="M337.70,71.40V93.00" stroke="#000" stroke-width="1.2" fill="none"/>
<path d="M334.80,84.60 L340.60,84.60 L337.70,79.40Z" fill="#000"/>
<path d="M349.10,63.20V86.00" stroke="#000" stroke-width="1.2" fill="none"/>
<path d="M346.20,77.40 L352.00,77.40 L349.10,72.20Z" fill="#000"/>
<path d="M364.50,71.50V90.00" stroke="#000" stroke-width="1.2" fill="none"/>
<path d="M361.60,83.20 L367.40,83.20 L364.50,78.00Z" fill="#000"/>
<path d="M366.50,65.70V95.00" stroke="#000" stroke-width="1.2" fill="none"/>
<path d="M363.60,83.20 L369.40,83.20 L366.50,78.00Z" fill="#000"/>
<path d="M388.00,69.80V93.00" stroke="#000" stroke-width="1.2" fill="none"/>
<path d="M385.10,83.80 L390.90,83.80 L388.00,78.60Z" fill="#000"/>
<path d="M393.30,76.00V103.00" stroke="#000" stroke-width="1.2" fill="none"/>
<path d="M390.40,92.30 L396.20,92.30 L393.30,87.10Z" fill="#000"/>
<path d="M413.70,75.10V105.00" stroke="#000" stroke-width="1.2" fill="none"/>
<path d="M410.80,92.70 L416.60,92.70 L413.70,87.50Z" fill="#000"/>
<path d="M422.80,91.30V117.80" stroke="#000" stroke-width="1.2" fill="none"/>
<path d="M419.90,106.70 L425.70,106.70 L422.80,101.50Z" fill="#000"/>
<path d="M439.40,90.00V119.00" stroke="#000" stroke-width="1.2" fill="none"/>
<path d="M436.50,106.80 L442.30,106.80 L439.40,101.60Z" fill="#000"/>
<path d="M456.20,93.50V121.30" stroke="#000" stroke-width="1.2" fill="none"/>
<path d="M453.30,108.80 L459.10,108.80 L456.20,103.60Z" fill="#000"/>
<path d="M469.40,101.00V125.80" stroke="#000" stroke-width="1.2" fill="none"/>
<path d="M466.50,115.30 L472.30,115.30 L469.40,110.10Z" fill="#000"/>
<path d="M507.10,95.00V139.50" stroke="#000" stroke-width="1.2" fill="none"/>
<path d="M504.20,119.20 L510.00,119.20 L507.10,114.00Z" fill="#000"/>
<path d="M529.10,114.00V151.30" stroke="#000" stroke-width="1.2" fill="none"/>
<path d="M526.20,134.90 L532.00,134.90 L529.10,129.70Z" fill="#000"/>
<path d="M72.3,35.94H629.6V592.85H72.3Z M72.3,314.67H629.6 M171.04,35.94v6.1 M171.04,308.57v12.2 M171.04,592.85v-6.1 M228.80,35.94v6.1 M228.80,308.57v12.2 M228.80,592.85v-6.1 M269.78,35.94v6.1 M269.78,308.57v12.2 M269.78,592.85v-6.1 M301.56,35.94v6.1 M301.56,308.57v12.2 M301.56,592.85v-6.1 M327.53,35.94v6.1 M327.53,308.57v12.2 M327.53,592.85v-6.1 M349.49,35.94v6.1 M349.49,308.57v12.2 M349.49,592.85v-6.1 M368.51,35.94v6.1 M368.51,308.57v12.2 M368.51,592.85v-6.1 M385.29,35.94v6.1 M385.29,308.57v12.2 M385.29,592.85v-6.1 M400.30,35.94v12.2 M400.30,302.47v24.4 M400.30,592.85v-12.2 M499.04,35.94v6.1 M499.04,308.57v12.2 M499.04,592.85v-6.1 M556.80,35.94v6.1 M556.80,308.57v12.2 M556.80,592.85v-6.1 M597.78,35.94v6.1 M597.78,308.57v12.2 M597.78,592.85v-6.1 M72.3,296.09h6.4 M629.6,296.09h-6.4 M72.3,277.51h6.4 M629.6,277.51h-6.4 M72.3,258.92h6.4 M629.6,258.92h-6.4 M72.3,240.34h6.4 M629.6,240.34h-6.4 M72.3,221.76h12.4 M629.6,221.76h-12.4 M72.3,203.18h6.4 M629.6,203.18h-6.4 M72.3,184.60h6.4 M629.6,184.60h-6.4 M72.3,166.01h6.4 M629.6,166.01h-6.4 M72.3,147.43h6.4 M629.6,147.43h-6.4 M72.3,128.85h12.4 M629.6,128.85h-12.4 M72.3,110.27h6.4 M629.6,110.27h-6.4 M72.3,91.69h6.4 M629.6,91.69h-6.4 M72.3,73.10h6.4 M629.6,73.10h-6.4 M72.3,54.52h6.4 M629.6,54.52h-6.4 M72.3,581.72h6.4 M629.6,581.72h-6.4 M72.3,570.60h6.4 M629.6,570.60h-6.4 M72.3,559.47h6.4 M629.6,559.47h-6.4 M72.3,548.34h6.4 M629.6,548.34h-6.4 M72.3,537.21h12.4 M629.6,537.21h-12.4 M72.3,526.09h6.4 M629.6,526.09h-6.4 M72.3,514.96h6.4 M629.6,514.96h-6.4 M72.3,503.83h6.4 M629.6,503.83h-6.4 M72.3,492.71h6.4 M629.6,492.71h-6.4 M72.3,481.58h12.4 M629.6,481.58h-12.4 M72.3,470.45h6.4 M629.6,470.45h-6.4 M72.3,459.32h6.4 M629.6,459.32h-6.4 M72.3,448.20h6.4 M629.6,448.20h-6.4 M72.3,437.07h6.4 M629.6,437.07h-6.4 M72.3,425.94h12.4 M629.6,425.94h-12.4 M72.3,414.81h6.4 M629.6,414.81h-6.4 M72.3,403.69h6.4 M629.6,403.69h-6.4 M72.3,392.56h6.4 M629.6,392.56h-6.4 M72.3,381.43h6.4 M629.6,381.43h-6.4 M72.3,370.31h12.4 M629.6,370.31h-12.4 M72.3,359.18h6.4 M629.6,359.18h-6.4 M72.3,348.05h6.4 M629.6,348.05h-6.4 M72.3,336.92h6.4 M629.6,336.92h-6.4 M72.3,325.80h6.4 M629.6,325.80h-6.4" fill="none" stroke="#000" stroke-width="1.3" stroke-linecap="butt"/>
<path d="M448.8,281.37V314.67 M442.8,298.67L448.8,314.67L454.8,298.67" fill="none" stroke="#000" stroke-width="1.2"/>
<path d="M448.8,559.5500000000001V592.85 M442.8,576.85L448.8,592.85L454.8,576.85" fill="none" stroke="#000" stroke-width="1.2"/>
<text transform="translate(61.9,42.49) scale(1.135,1)" x="0" y="0" font-family="Liberation Sans, sans-serif" font-size="18.3" text-anchor="end" fill="#000">300</text>
<text transform="translate(61.9,135.40) scale(1.135,1)" x="0" y="0" font-family="Liberation Sans, sans-serif" font-size="18.3" text-anchor="end" fill="#000">200</text>
<text transform="translate(61.9,228.31) scale(1.135,1)" x="0" y="0" font-family="Liberation Sans, sans-serif" font-size="18.3" text-anchor="end" fill="#000">100</text>
<text transform="translate(61.9,321.22) scale(1.135,1)" x="0" y="0" font-family="Liberation Sans, sans-serif" font-size="18.3" text-anchor="end" fill="#000">500</text>
<text transform="translate(61.9,377.26) scale(1.135,1)" x="0" y="0" font-family="Liberation Sans, sans-serif" font-size="18.3" text-anchor="end" fill="#000">400</text>
<text transform="translate(61.9,432.89) scale(1.135,1)" x="0" y="0" font-family="Liberation Sans, sans-serif" font-size="18.3" text-anchor="end" fill="#000">300</text>
<text transform="translate(61.9,488.53) scale(1.135,1)" x="0" y="0" font-family="Liberation Sans, sans-serif" font-size="18.3" text-anchor="end" fill="#000">200</text>
<text transform="translate(61.9,544.16) scale(1.135,1)" x="0" y="0" font-family="Liberation Sans, sans-serif" font-size="18.3" text-anchor="end" fill="#000">100</text>
<text transform="translate(61.9,599.80) scale(1.135,1)" x="0" y="0" font-family="Liberation Sans, sans-serif" font-size="18.3" text-anchor="end" fill="#000">0</text>
<text transform="translate(72.5,616.40) scale(1.135,1)" x="0" y="0" font-family="Liberation Sans, sans-serif" font-size="18.3" text-anchor="middle" fill="#000">1</text>
<text transform="translate(401.3,616.40) scale(1.135,1)" x="0" y="0" font-family="Liberation Sans, sans-serif" font-size="18.3" text-anchor="middle" fill="#000">10</text>
<text x="267.6" y="25.8" font-family="Liberation Serif, serif" font-size="24.4" textLength="45.80" lengthAdjust="spacingAndGlyphs" fill="#000">GMP</text>
<text x="325.4" y="25.8" font-family="Liberation Serif, serif" font-size="24.4" textLength="52.80" lengthAdjust="spacingAndGlyphs" fill="#000">0282</text>
<text x="309.6" y="643.8" font-family="Liberation Serif, serif" font-size="19" textLength="82.20" lengthAdjust="spacingAndGlyphs" fill="#000">R,arcsec</text>
<text x="89.6" y="92.5" font-family="Liberation Serif, serif" font-size="20.8" textLength="12.60" lengthAdjust="spacingAndGlyphs" fill="#000">A</text>
<text x="546.2" y="63.4" font-family="Liberation Serif, serif" font-size="21.2" font-style="italic" textLength="13.40" lengthAdjust="spacingAndGlyphs" fill="#f00">σ</text>
<text x="560.0" y="69.7" font-family="Liberation Serif, serif" font-size="13" font-weight="bold" textLength="7.40" lengthAdjust="spacingAndGlyphs" fill="#f00">p</text>
<text x="569.4" y="63.4" font-family="Liberation Serif, serif" font-size="21.2" textLength="5.60" lengthAdjust="spacingAndGlyphs" fill="#f00">(</text>
<text x="575.0" y="63.4" font-family="Liberation Serif, serif" font-size="21.2" textLength="19.00" lengthAdjust="spacingAndGlyphs" fill="#f00">R</text>
<text x="594.2" y="63.4" font-family="Liberation Serif, serif" font-size="21.2" textLength="6.20" lengthAdjust="spacingAndGlyphs" fill="#f00">)</text>
<text x="546.0" y="105.5" font-family="Liberation Serif, serif" font-size="21.2" textLength="14.00" lengthAdjust="spacingAndGlyphs" fill="#00f">V</text>
<text x="559.6" y="111.4" font-family="Liberation Serif, serif" font-size="13" font-weight="bold" textLength="19.30" lengthAdjust="spacingAndGlyphs" fill="#00f">rot</text>
<text x="580.4" y="105.5" font-family="Liberation Serif, serif" font-size="21.2" textLength="6.00" lengthAdjust="spacingAndGlyphs" fill="#00f">(</text>
<text x="586.4" y="105.5" font-family="Liberation Serif, serif" font-size="21.2" textLength="18.40" lengthAdjust="spacingAndGlyphs" fill="#00f">R</text>
<text x="605.0" y="105.5" font-family="Liberation Serif, serif" font-size="21.2" textLength="6.60" lengthAdjust="spacingAndGlyphs" fill="#00f">)</text>
<text x="547.0" y="147.2" font-family="Liberation Serif, serif" font-size="21.2" textLength="13.00" lengthAdjust="spacingAndGlyphs" fill="#000">V</text>
<text x="559.6" y="154.0" font-family="Liberation Serif, serif" font-size="13" font-weight="bold" textLength="26.60" lengthAdjust="spacingAndGlyphs" fill="#000">rms</text>
<text x="587.7" y="147.2" font-family="Liberation Serif, serif" font-size="21.2" textLength="5.50" lengthAdjust="spacingAndGlyphs" fill="#000">(</text>
<text x="593.2" y="147.2" font-family="Liberation Serif, serif" font-size="21.2" textLength="18.40" lengthAdjust="spacingAndGlyphs" fill="#000">R</text>
<text x="611.8000000000001" y="147.2" font-family="Liberation Serif, serif" font-size="21.2" textLength="6.30" lengthAdjust="spacingAndGlyphs" fill="#000">)</text>
<text x="545.2" y="543.1" font-family="Liberation Serif, serif" font-size="18.8" textLength="12.60" lengthAdjust="spacingAndGlyphs" fill="#000">V</text>
<text x="557.6" y="537.3000000000001" font-family="Liberation Serif, serif" font-size="11" font-weight="bold" textLength="29.00" lengthAdjust="spacingAndGlyphs" fill="#000">Schw</text>
<text x="557.6" y="548.9" font-family="Liberation Serif, serif" font-size="11" font-weight="bold" textLength="6.70" lengthAdjust="spacingAndGlyphs" fill="#000">c</text>
<text x="587.4" y="543.1" font-family="Liberation Serif, serif" font-size="18.8" textLength="7.40" lengthAdjust="spacingAndGlyphs" fill="#000">(</text>
<text x="594.8" y="543.1" font-family="Liberation Mono, monospace" font-size="18.7" textLength="12.00" lengthAdjust="spacingAndGlyphs" fill="#000">r</text>
<text x="607.0" y="543.1" font-family="Liberation Serif, serif" font-size="18.8" textLength="5.40" lengthAdjust="spacingAndGlyphs" fill="#000">)</text>
<text x="545.2" y="576.2" font-family="Liberation Serif, serif" font-size="18.8" textLength="12.60" lengthAdjust="spacingAndGlyphs" fill="#00f">V</text>
<text x="557.6" y="570.4000000000001" font-family="Liberation Serif, serif" font-size="11" font-weight="bold" textLength="16.10" lengthAdjust="spacingAndGlyphs" fill="#00f">iso</text>
<text x="557.6" y="582.0" font-family="Liberation Serif, serif" font-size="11" font-weight="bold" textLength="6.70" lengthAdjust="spacingAndGlyphs" fill="#00f">c</text>
<text x="575.0" y="576.2" font-family="Liberation Serif, serif" font-size="18.8" textLength="7.10" lengthAdjust="spacingAndGlyphs" fill="#00f">(</text>
<text x="582.1" y="576.2" font-family="Liberation Mono, monospace" font-size="18.7" textLength="11.50" lengthAdjust="spacingAndGlyphs" fill="#00f">r</text>
<text x="593.8" y="576.2" font-family="Liberation Serif, serif" font-size="18.8" textLength="5.30" lengthAdjust="spacingAndGlyphs" fill="#00f">)</text>
<g transform="translate(17.5,232.5) rotate(-90)">
<text x="-0.3" y="0" font-family="Liberation Serif, serif" font-size="21" textLength="12.20" lengthAdjust="spacingAndGlyphs" fill="#000">V</text>
<text x="13.0" y="4.0" font-family="Liberation Serif, serif" font-size="14" font-weight="bold" textLength="22.00" lengthAdjust="spacingAndGlyphs" fill="#000">rms,</text>
<text x="49.8" y="0" font-family="Liberation Serif, serif" font-size="21" textLength="29.30" lengthAdjust="spacingAndGlyphs" fill="#000">km</text>
<text x="91.2" y="0" font-family="Liberation Serif, serif" font-size="21" textLength="9.10" lengthAdjust="spacingAndGlyphs" fill="#000">s</text>
<text x="104.4" y="-6.0" font-family="Liberation Serif, serif" font-size="13" textLength="10.00" lengthAdjust="spacingAndGlyphs" fill="#000">−1</text>
</g>
<g transform="translate(17.5,503.75) rotate(-90)">
<text x="-0.3" y="0" font-family="Liberation Serif, serif" font-size="21" textLength="11.40" lengthAdjust="spacingAndGlyphs" fill="#000">V</text>
<text x="12.8" y="4.0" font-family="Liberation Serif, serif" font-size="14" font-weight="bold" textLength="11.40" lengthAdjust="spacingAndGlyphs" fill="#000">c,</text>
<text x="34.8" y="0" font-family="Liberation Serif, serif" font-size="21" textLength="29.30" lengthAdjust="spacingAndGlyphs" fill="#000">km</text>
<text x="76.0" y="0" font-family="Liberation Serif, serif" font-size="21" textLength="9.30" lengthAdjust="spacingAndGlyphs" fill="#000">s</text>
<text x="89.4" y="-6.0" font-family="Liberation Serif, serif" font-size="13" textLength="10.00" lengthAdjust="spacingAndGlyphs" fill="#000">−1</text>
</g>
</svg></body></html>
